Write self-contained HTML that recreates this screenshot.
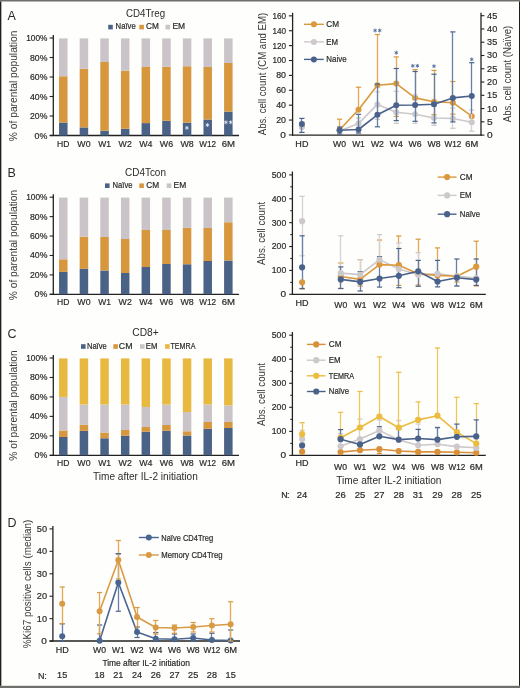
<!DOCTYPE html>
<html><head><meta charset="utf-8"><style>
html,body{margin:0;padding:0;background:#fefefc;}
svg{display:block;will-change:transform;}
text{font-family:"Liberation Sans", sans-serif;}
</style></head><body>
<svg width="520" height="688" viewBox="0 0 520 688">
<rect width="520" height="688" fill="#fefefc"/>
<text x="7.6" y="19.5" font-size="12.5" fill="#2b2b2b">A</text>
<text x="125.97" y="16.8" font-size="10.5" textLength="39.27" lengthAdjust="spacingAndGlyphs" fill="#2b2b2b">CD4Treg</text>
<rect x="108.2" y="24.8" width="4.6" height="4.6" fill="#4b6287"/>
<text x="115.62" y="29.4" font-size="8.3" textLength="20.16" lengthAdjust="spacingAndGlyphs" fill="#2b2b2b" stroke="#2b2b2b" stroke-width="0.2">Naïve</text>
<rect x="139.3" y="24.8" width="4.6" height="4.6" fill="#d6973f"/>
<text x="145.92" y="29.4" font-size="8.3" textLength="12.86" lengthAdjust="spacingAndGlyphs" fill="#2b2b2b" stroke="#2b2b2b" stroke-width="0.2">CM</text>
<rect x="165.5" y="24.8" width="4.6" height="4.6" fill="#cac4c8"/>
<text x="172.42" y="29.4" font-size="8.3" textLength="12.66" lengthAdjust="spacingAndGlyphs" fill="#2b2b2b" stroke="#2b2b2b" stroke-width="0.2">EM</text>
<text x="17.3" y="85.9" font-size="10.8" text-anchor="middle" textLength="110.5" lengthAdjust="spacingAndGlyphs" transform="rotate(-90 17.3 85.9)" fill="#3a3a3a">% of parental population</text>
<line x1="53.3" y1="35" x2="53.3" y2="136" stroke="#222" stroke-width="1.3"/>
<line x1="49.7" y1="135.5" x2="239" y2="135.5" stroke="#222" stroke-width="1.3"/>
<line x1="49.7" y1="38" x2="53.3" y2="38" stroke="#222" stroke-width="1.1"/>
<text x="26.2" y="41" font-size="8.5" textLength="21.19" lengthAdjust="spacingAndGlyphs" fill="#2b2b2b" stroke="#2b2b2b" stroke-width="0.2">100%</text>
<line x1="49.7" y1="57.5" x2="53.3" y2="57.5" stroke="#222" stroke-width="1.1"/>
<text x="30" y="60.5" font-size="8.5" textLength="17.39" lengthAdjust="spacingAndGlyphs" fill="#2b2b2b" stroke="#2b2b2b" stroke-width="0.2">80%</text>
<line x1="49.7" y1="77" x2="53.3" y2="77" stroke="#222" stroke-width="1.1"/>
<text x="30" y="80" font-size="8.5" textLength="17.39" lengthAdjust="spacingAndGlyphs" fill="#2b2b2b" stroke="#2b2b2b" stroke-width="0.2">60%</text>
<line x1="49.7" y1="96.5" x2="53.3" y2="96.5" stroke="#222" stroke-width="1.1"/>
<text x="30" y="99.5" font-size="8.5" textLength="17.39" lengthAdjust="spacingAndGlyphs" fill="#2b2b2b" stroke="#2b2b2b" stroke-width="0.2">40%</text>
<line x1="49.7" y1="116" x2="53.3" y2="116" stroke="#222" stroke-width="1.1"/>
<text x="30" y="119" font-size="8.5" textLength="17.39" lengthAdjust="spacingAndGlyphs" fill="#2b2b2b" stroke="#2b2b2b" stroke-width="0.2">20%</text>
<line x1="49.7" y1="135.5" x2="53.3" y2="135.5" stroke="#222" stroke-width="1.1"/>
<text x="34.6" y="138.5" font-size="8.5" textLength="12.79" lengthAdjust="spacingAndGlyphs" fill="#2b2b2b" stroke="#2b2b2b" stroke-width="0.2">0%</text>
<rect x="59.05" y="122.5" width="8.5" height="13" fill="#4b6287"/>
<rect x="59.05" y="76.25" width="8.5" height="46.25" fill="#d6973f"/>
<rect x="59.05" y="38.4" width="8.5" height="37.85" fill="#cac4c8"/>
<rect x="79.68" y="127.4" width="8.5" height="8.1" fill="#4b6287"/>
<rect x="79.68" y="68.75" width="8.5" height="58.65" fill="#d6973f"/>
<rect x="79.68" y="38.4" width="8.5" height="30.35" fill="#cac4c8"/>
<rect x="100.31" y="130.7" width="8.5" height="4.8" fill="#4b6287"/>
<rect x="100.31" y="62" width="8.5" height="68.7" fill="#d6973f"/>
<rect x="100.31" y="38.4" width="8.5" height="23.6" fill="#cac4c8"/>
<rect x="120.94" y="128.7" width="8.5" height="6.8" fill="#4b6287"/>
<rect x="120.94" y="70.75" width="8.5" height="57.95" fill="#d6973f"/>
<rect x="120.94" y="38.4" width="8.5" height="32.35" fill="#cac4c8"/>
<rect x="141.57" y="123.1" width="8.5" height="12.4" fill="#4b6287"/>
<rect x="141.57" y="67" width="8.5" height="56.1" fill="#d6973f"/>
<rect x="141.57" y="38.4" width="8.5" height="28.6" fill="#cac4c8"/>
<rect x="162.2" y="120.75" width="8.5" height="14.75" fill="#4b6287"/>
<rect x="162.2" y="66.75" width="8.5" height="54" fill="#d6973f"/>
<rect x="162.2" y="38.4" width="8.5" height="28.35" fill="#cac4c8"/>
<rect x="182.83" y="122.7" width="8.5" height="12.8" fill="#4b6287"/>
<rect x="182.83" y="66.25" width="8.5" height="56.45" fill="#d6973f"/>
<rect x="182.83" y="38.4" width="8.5" height="27.85" fill="#cac4c8"/>
<rect x="203.46" y="119.5" width="8.5" height="16" fill="#4b6287"/>
<rect x="203.46" y="67" width="8.5" height="52.5" fill="#d6973f"/>
<rect x="203.46" y="38.4" width="8.5" height="28.6" fill="#cac4c8"/>
<rect x="224.09" y="111.6" width="8.5" height="23.9" fill="#4b6287"/>
<rect x="224.09" y="63" width="8.5" height="48.6" fill="#d6973f"/>
<rect x="224.09" y="38.4" width="8.5" height="24.6" fill="#cac4c8"/>
<text x="63.3" y="146.6" font-size="9.2" text-anchor="middle" textLength="12.39" lengthAdjust="spacingAndGlyphs" fill="#2b2b2b" stroke="#2b2b2b" stroke-width="0.2">HD</text>
<text x="83.93" y="146.6" font-size="9.2" text-anchor="middle" textLength="13.19" lengthAdjust="spacingAndGlyphs" fill="#2b2b2b" stroke="#2b2b2b" stroke-width="0.2">W0</text>
<text x="104.56" y="146.6" font-size="9.2" text-anchor="middle" textLength="12.79" lengthAdjust="spacingAndGlyphs" fill="#2b2b2b" stroke="#2b2b2b" stroke-width="0.2">W1</text>
<text x="125.19" y="146.6" font-size="9.2" text-anchor="middle" textLength="13.19" lengthAdjust="spacingAndGlyphs" fill="#2b2b2b" stroke="#2b2b2b" stroke-width="0.2">W2</text>
<text x="145.82" y="146.6" font-size="9.2" text-anchor="middle" textLength="13.29" lengthAdjust="spacingAndGlyphs" fill="#2b2b2b" stroke="#2b2b2b" stroke-width="0.2">W4</text>
<text x="166.45" y="146.6" font-size="9.2" text-anchor="middle" textLength="13.29" lengthAdjust="spacingAndGlyphs" fill="#2b2b2b" stroke="#2b2b2b" stroke-width="0.2">W6</text>
<text x="187.08" y="146.6" font-size="9.2" text-anchor="middle" textLength="13.29" lengthAdjust="spacingAndGlyphs" fill="#2b2b2b" stroke="#2b2b2b" stroke-width="0.2">W8</text>
<text x="207.71" y="146.6" font-size="9.2" text-anchor="middle" textLength="16.79" lengthAdjust="spacingAndGlyphs" fill="#2b2b2b" stroke="#2b2b2b" stroke-width="0.2">W12</text>
<text x="228.34" y="146.6" font-size="9.2" text-anchor="middle" textLength="13.29" lengthAdjust="spacingAndGlyphs" fill="#2b2b2b" stroke="#2b2b2b" stroke-width="0.2">6M</text>
<line x1="186.9" y1="125.9" x2="186.9" y2="129.9" stroke="#f4f4f8" stroke-width="0.75"/>
<line x1="188.63" y1="126.9" x2="185.17" y2="128.9" stroke="#f4f4f8" stroke-width="0.75"/>
<line x1="188.63" y1="128.9" x2="185.17" y2="126.9" stroke="#f4f4f8" stroke-width="0.75"/>
<line x1="207.4" y1="123" x2="207.4" y2="127" stroke="#f4f4f8" stroke-width="0.75"/>
<line x1="209.13" y1="124" x2="205.67" y2="126" stroke="#f4f4f8" stroke-width="0.75"/>
<line x1="209.13" y1="126" x2="205.67" y2="124" stroke="#f4f4f8" stroke-width="0.75"/>
<line x1="225.9" y1="120.3" x2="225.9" y2="124.3" stroke="#f4f4f8" stroke-width="0.75"/>
<line x1="227.63" y1="121.3" x2="224.17" y2="123.3" stroke="#f4f4f8" stroke-width="0.75"/>
<line x1="227.63" y1="123.3" x2="224.17" y2="121.3" stroke="#f4f4f8" stroke-width="0.75"/>
<line x1="230.7" y1="120.3" x2="230.7" y2="124.3" stroke="#f4f4f8" stroke-width="0.75"/>
<line x1="232.43" y1="121.3" x2="228.97" y2="123.3" stroke="#f4f4f8" stroke-width="0.75"/>
<line x1="232.43" y1="123.3" x2="228.97" y2="121.3" stroke="#f4f4f8" stroke-width="0.75"/>
<text x="7.6" y="177.4" font-size="12.5" fill="#2b2b2b">B</text>
<text x="125.06" y="175.8" font-size="10.5" textLength="40.87" lengthAdjust="spacingAndGlyphs" fill="#2b2b2b">CD4Tcon</text>
<rect x="105" y="183.4" width="4.6" height="4.6" fill="#4b6287"/>
<text x="112.62" y="188.3" font-size="8.3" textLength="19.96" lengthAdjust="spacingAndGlyphs" fill="#2b2b2b" stroke="#2b2b2b" stroke-width="0.2">Naïve</text>
<rect x="139.3" y="183.4" width="4.6" height="4.6" fill="#d6973f"/>
<text x="146.22" y="188.3" font-size="8.3" textLength="12.86" lengthAdjust="spacingAndGlyphs" fill="#2b2b2b" stroke="#2b2b2b" stroke-width="0.2">CM</text>
<rect x="166.7" y="183.4" width="4.6" height="4.6" fill="#cac4c8"/>
<text x="173.62" y="188.3" font-size="8.3" textLength="12.66" lengthAdjust="spacingAndGlyphs" fill="#2b2b2b" stroke="#2b2b2b" stroke-width="0.2">EM</text>
<text x="17.3" y="245" font-size="10.8" text-anchor="middle" textLength="110.5" lengthAdjust="spacingAndGlyphs" transform="rotate(-90 17.3 245)" fill="#3a3a3a">% of parental population</text>
<line x1="53.3" y1="194.2" x2="53.3" y2="294.8" stroke="#222" stroke-width="1.3"/>
<line x1="49.7" y1="294.3" x2="239" y2="294.3" stroke="#222" stroke-width="1.3"/>
<line x1="49.7" y1="197.2" x2="53.3" y2="197.2" stroke="#222" stroke-width="1.1"/>
<text x="26.2" y="200.2" font-size="8.5" textLength="21.19" lengthAdjust="spacingAndGlyphs" fill="#2b2b2b" stroke="#2b2b2b" stroke-width="0.2">100%</text>
<line x1="49.7" y1="216.62" x2="53.3" y2="216.62" stroke="#222" stroke-width="1.1"/>
<text x="30" y="219.62" font-size="8.5" textLength="17.39" lengthAdjust="spacingAndGlyphs" fill="#2b2b2b" stroke="#2b2b2b" stroke-width="0.2">80%</text>
<line x1="49.7" y1="236.04" x2="53.3" y2="236.04" stroke="#222" stroke-width="1.1"/>
<text x="30" y="239.04" font-size="8.5" textLength="17.39" lengthAdjust="spacingAndGlyphs" fill="#2b2b2b" stroke="#2b2b2b" stroke-width="0.2">60%</text>
<line x1="49.7" y1="255.46" x2="53.3" y2="255.46" stroke="#222" stroke-width="1.1"/>
<text x="30" y="258.46" font-size="8.5" textLength="17.39" lengthAdjust="spacingAndGlyphs" fill="#2b2b2b" stroke="#2b2b2b" stroke-width="0.2">40%</text>
<line x1="49.7" y1="274.88" x2="53.3" y2="274.88" stroke="#222" stroke-width="1.1"/>
<text x="30" y="277.88" font-size="8.5" textLength="17.39" lengthAdjust="spacingAndGlyphs" fill="#2b2b2b" stroke="#2b2b2b" stroke-width="0.2">20%</text>
<line x1="49.7" y1="294.3" x2="53.3" y2="294.3" stroke="#222" stroke-width="1.1"/>
<text x="34.6" y="297.3" font-size="8.5" textLength="12.79" lengthAdjust="spacingAndGlyphs" fill="#2b2b2b" stroke="#2b2b2b" stroke-width="0.2">0%</text>
<rect x="59.05" y="271.9" width="8.5" height="22.4" fill="#4b6287"/>
<rect x="59.05" y="259.3" width="8.5" height="12.6" fill="#d6973f"/>
<rect x="59.05" y="197.6" width="8.5" height="61.7" fill="#cac4c8"/>
<rect x="79.68" y="268.9" width="8.5" height="25.4" fill="#4b6287"/>
<rect x="79.68" y="236.7" width="8.5" height="32.2" fill="#d6973f"/>
<rect x="79.68" y="197.6" width="8.5" height="39.1" fill="#cac4c8"/>
<rect x="100.31" y="270.5" width="8.5" height="23.8" fill="#4b6287"/>
<rect x="100.31" y="237" width="8.5" height="33.5" fill="#d6973f"/>
<rect x="100.31" y="197.6" width="8.5" height="39.4" fill="#cac4c8"/>
<rect x="120.94" y="273" width="8.5" height="21.3" fill="#4b6287"/>
<rect x="120.94" y="239" width="8.5" height="34" fill="#d6973f"/>
<rect x="120.94" y="197.6" width="8.5" height="41.4" fill="#cac4c8"/>
<rect x="141.57" y="267" width="8.5" height="27.3" fill="#4b6287"/>
<rect x="141.57" y="230" width="8.5" height="37" fill="#d6973f"/>
<rect x="141.57" y="197.6" width="8.5" height="32.4" fill="#cac4c8"/>
<rect x="162.2" y="264" width="8.5" height="30.3" fill="#4b6287"/>
<rect x="162.2" y="230" width="8.5" height="34" fill="#d6973f"/>
<rect x="162.2" y="197.6" width="8.5" height="32.4" fill="#cac4c8"/>
<rect x="182.83" y="264.25" width="8.5" height="30.05" fill="#4b6287"/>
<rect x="182.83" y="227.75" width="8.5" height="36.5" fill="#d6973f"/>
<rect x="182.83" y="197.6" width="8.5" height="30.15" fill="#cac4c8"/>
<rect x="203.46" y="261" width="8.5" height="33.3" fill="#4b6287"/>
<rect x="203.46" y="228" width="8.5" height="33" fill="#d6973f"/>
<rect x="203.46" y="197.6" width="8.5" height="30.4" fill="#cac4c8"/>
<rect x="224.09" y="260.5" width="8.5" height="33.8" fill="#4b6287"/>
<rect x="224.09" y="222.25" width="8.5" height="38.25" fill="#d6973f"/>
<rect x="224.09" y="197.6" width="8.5" height="24.65" fill="#cac4c8"/>
<text x="63.3" y="305.4" font-size="9.2" text-anchor="middle" textLength="12.39" lengthAdjust="spacingAndGlyphs" fill="#2b2b2b" stroke="#2b2b2b" stroke-width="0.2">HD</text>
<text x="83.93" y="305.4" font-size="9.2" text-anchor="middle" textLength="13.19" lengthAdjust="spacingAndGlyphs" fill="#2b2b2b" stroke="#2b2b2b" stroke-width="0.2">W0</text>
<text x="104.56" y="305.4" font-size="9.2" text-anchor="middle" textLength="12.79" lengthAdjust="spacingAndGlyphs" fill="#2b2b2b" stroke="#2b2b2b" stroke-width="0.2">W1</text>
<text x="125.19" y="305.4" font-size="9.2" text-anchor="middle" textLength="13.19" lengthAdjust="spacingAndGlyphs" fill="#2b2b2b" stroke="#2b2b2b" stroke-width="0.2">W2</text>
<text x="145.82" y="305.4" font-size="9.2" text-anchor="middle" textLength="13.29" lengthAdjust="spacingAndGlyphs" fill="#2b2b2b" stroke="#2b2b2b" stroke-width="0.2">W4</text>
<text x="166.45" y="305.4" font-size="9.2" text-anchor="middle" textLength="13.29" lengthAdjust="spacingAndGlyphs" fill="#2b2b2b" stroke="#2b2b2b" stroke-width="0.2">W6</text>
<text x="187.08" y="305.4" font-size="9.2" text-anchor="middle" textLength="13.29" lengthAdjust="spacingAndGlyphs" fill="#2b2b2b" stroke="#2b2b2b" stroke-width="0.2">W8</text>
<text x="207.71" y="305.4" font-size="9.2" text-anchor="middle" textLength="16.79" lengthAdjust="spacingAndGlyphs" fill="#2b2b2b" stroke="#2b2b2b" stroke-width="0.2">W12</text>
<text x="228.34" y="305.4" font-size="9.2" text-anchor="middle" textLength="13.29" lengthAdjust="spacingAndGlyphs" fill="#2b2b2b" stroke="#2b2b2b" stroke-width="0.2">6M</text>
<text x="7.6" y="338.4" font-size="12.5" fill="#2b2b2b">C</text>
<text x="132.26" y="336.1" font-size="10.5" textLength="26.47" lengthAdjust="spacingAndGlyphs" fill="#2b2b2b">CD8+</text>
<rect x="81" y="344.2" width="4.6" height="4.6" fill="#4b6287"/>
<text x="86.92" y="349.2" font-size="8.3" textLength="19.86" lengthAdjust="spacingAndGlyphs" fill="#2b2b2b" stroke="#2b2b2b" stroke-width="0.2">Naïve</text>
<rect x="113.3" y="344.2" width="4.6" height="4.6" fill="#d6973f"/>
<text x="118.82" y="349.2" font-size="8.3" textLength="13.66" lengthAdjust="spacingAndGlyphs" fill="#2b2b2b" stroke="#2b2b2b" stroke-width="0.2">CM</text>
<rect x="140" y="344.2" width="4.6" height="4.6" fill="#cac4c8"/>
<text x="145.82" y="349.2" font-size="8.3" textLength="11.66" lengthAdjust="spacingAndGlyphs" fill="#2b2b2b" stroke="#2b2b2b" stroke-width="0.2">EM</text>
<rect x="165.1" y="344.2" width="4.6" height="4.6" fill="#e8b940"/>
<text x="170.42" y="349.2" font-size="8.3" textLength="25.06" lengthAdjust="spacingAndGlyphs" fill="#2b2b2b" stroke="#2b2b2b" stroke-width="0.2">TEMRA</text>
<text x="17.3" y="405.5" font-size="10.8" text-anchor="middle" textLength="110.5" lengthAdjust="spacingAndGlyphs" transform="rotate(-90 17.3 405.5)" fill="#3a3a3a">% of parental population</text>
<line x1="53.3" y1="355" x2="53.3" y2="455.8" stroke="#222" stroke-width="1.3"/>
<line x1="49.7" y1="455.3" x2="239" y2="455.3" stroke="#222" stroke-width="1.3"/>
<line x1="49.7" y1="358" x2="53.3" y2="358" stroke="#222" stroke-width="1.1"/>
<text x="26.2" y="361" font-size="8.5" textLength="21.19" lengthAdjust="spacingAndGlyphs" fill="#2b2b2b" stroke="#2b2b2b" stroke-width="0.2">100%</text>
<line x1="49.7" y1="377.46" x2="53.3" y2="377.46" stroke="#222" stroke-width="1.1"/>
<text x="30" y="380.46" font-size="8.5" textLength="17.39" lengthAdjust="spacingAndGlyphs" fill="#2b2b2b" stroke="#2b2b2b" stroke-width="0.2">80%</text>
<line x1="49.7" y1="396.92" x2="53.3" y2="396.92" stroke="#222" stroke-width="1.1"/>
<text x="30" y="399.92" font-size="8.5" textLength="17.39" lengthAdjust="spacingAndGlyphs" fill="#2b2b2b" stroke="#2b2b2b" stroke-width="0.2">60%</text>
<line x1="49.7" y1="416.38" x2="53.3" y2="416.38" stroke="#222" stroke-width="1.1"/>
<text x="30" y="419.38" font-size="8.5" textLength="17.39" lengthAdjust="spacingAndGlyphs" fill="#2b2b2b" stroke="#2b2b2b" stroke-width="0.2">40%</text>
<line x1="49.7" y1="435.84" x2="53.3" y2="435.84" stroke="#222" stroke-width="1.1"/>
<text x="30" y="438.84" font-size="8.5" textLength="17.39" lengthAdjust="spacingAndGlyphs" fill="#2b2b2b" stroke="#2b2b2b" stroke-width="0.2">20%</text>
<line x1="49.7" y1="455.3" x2="53.3" y2="455.3" stroke="#222" stroke-width="1.1"/>
<text x="34.6" y="458.3" font-size="8.5" textLength="12.79" lengthAdjust="spacingAndGlyphs" fill="#2b2b2b" stroke="#2b2b2b" stroke-width="0.2">0%</text>
<rect x="59.05" y="437" width="8.5" height="18.3" fill="#4b6287"/>
<rect x="59.05" y="430.5" width="8.5" height="6.5" fill="#d6973f"/>
<rect x="59.05" y="396.9" width="8.5" height="33.6" fill="#cac4c8"/>
<rect x="59.05" y="358.4" width="8.5" height="38.5" fill="#e8b940"/>
<rect x="79.68" y="430.9" width="8.5" height="24.4" fill="#4b6287"/>
<rect x="79.68" y="424.8" width="8.5" height="6.1" fill="#d6973f"/>
<rect x="79.68" y="404.5" width="8.5" height="20.3" fill="#cac4c8"/>
<rect x="79.68" y="358.4" width="8.5" height="46.1" fill="#e8b940"/>
<rect x="100.31" y="438.25" width="8.5" height="17.05" fill="#4b6287"/>
<rect x="100.31" y="432.5" width="8.5" height="5.75" fill="#d6973f"/>
<rect x="100.31" y="404.5" width="8.5" height="28" fill="#cac4c8"/>
<rect x="100.31" y="358.4" width="8.5" height="46.1" fill="#e8b940"/>
<rect x="120.94" y="435.75" width="8.5" height="19.55" fill="#4b6287"/>
<rect x="120.94" y="430" width="8.5" height="5.75" fill="#d6973f"/>
<rect x="120.94" y="404.5" width="8.5" height="25.5" fill="#cac4c8"/>
<rect x="120.94" y="358.4" width="8.5" height="46.1" fill="#e8b940"/>
<rect x="141.57" y="431.75" width="8.5" height="23.55" fill="#4b6287"/>
<rect x="141.57" y="427" width="8.5" height="4.75" fill="#d6973f"/>
<rect x="141.57" y="407" width="8.5" height="20" fill="#cac4c8"/>
<rect x="141.57" y="358.4" width="8.5" height="48.6" fill="#e8b940"/>
<rect x="162.2" y="430.75" width="8.5" height="24.55" fill="#4b6287"/>
<rect x="162.2" y="425" width="8.5" height="5.75" fill="#d6973f"/>
<rect x="162.2" y="404.5" width="8.5" height="20.5" fill="#cac4c8"/>
<rect x="162.2" y="358.4" width="8.5" height="46.1" fill="#e8b940"/>
<rect x="182.83" y="435.5" width="8.5" height="19.8" fill="#4b6287"/>
<rect x="182.83" y="431.25" width="8.5" height="4.25" fill="#d6973f"/>
<rect x="182.83" y="412" width="8.5" height="19.25" fill="#cac4c8"/>
<rect x="182.83" y="358.4" width="8.5" height="53.6" fill="#e8b940"/>
<rect x="203.46" y="428.75" width="8.5" height="26.55" fill="#4b6287"/>
<rect x="203.46" y="422" width="8.5" height="6.75" fill="#d6973f"/>
<rect x="203.46" y="404.5" width="8.5" height="17.5" fill="#cac4c8"/>
<rect x="203.46" y="358.4" width="8.5" height="46.1" fill="#e8b940"/>
<rect x="224.09" y="428" width="8.5" height="27.3" fill="#4b6287"/>
<rect x="224.09" y="422" width="8.5" height="6" fill="#d6973f"/>
<rect x="224.09" y="405.5" width="8.5" height="16.5" fill="#cac4c8"/>
<rect x="224.09" y="358.4" width="8.5" height="47.1" fill="#e8b940"/>
<text x="63.3" y="466.4" font-size="9.2" text-anchor="middle" textLength="12.39" lengthAdjust="spacingAndGlyphs" fill="#2b2b2b" stroke="#2b2b2b" stroke-width="0.2">HD</text>
<text x="83.93" y="466.4" font-size="9.2" text-anchor="middle" textLength="13.19" lengthAdjust="spacingAndGlyphs" fill="#2b2b2b" stroke="#2b2b2b" stroke-width="0.2">W0</text>
<text x="104.56" y="466.4" font-size="9.2" text-anchor="middle" textLength="12.79" lengthAdjust="spacingAndGlyphs" fill="#2b2b2b" stroke="#2b2b2b" stroke-width="0.2">W1</text>
<text x="125.19" y="466.4" font-size="9.2" text-anchor="middle" textLength="13.19" lengthAdjust="spacingAndGlyphs" fill="#2b2b2b" stroke="#2b2b2b" stroke-width="0.2">W2</text>
<text x="145.82" y="466.4" font-size="9.2" text-anchor="middle" textLength="13.29" lengthAdjust="spacingAndGlyphs" fill="#2b2b2b" stroke="#2b2b2b" stroke-width="0.2">W4</text>
<text x="166.45" y="466.4" font-size="9.2" text-anchor="middle" textLength="13.29" lengthAdjust="spacingAndGlyphs" fill="#2b2b2b" stroke="#2b2b2b" stroke-width="0.2">W6</text>
<text x="187.08" y="466.4" font-size="9.2" text-anchor="middle" textLength="13.29" lengthAdjust="spacingAndGlyphs" fill="#2b2b2b" stroke="#2b2b2b" stroke-width="0.2">W8</text>
<text x="207.71" y="466.4" font-size="9.2" text-anchor="middle" textLength="16.79" lengthAdjust="spacingAndGlyphs" fill="#2b2b2b" stroke="#2b2b2b" stroke-width="0.2">W12</text>
<text x="228.34" y="466.4" font-size="9.2" text-anchor="middle" textLength="13.29" lengthAdjust="spacingAndGlyphs" fill="#2b2b2b" stroke="#2b2b2b" stroke-width="0.2">6M</text>
<text x="92.99" y="479.8" font-size="10.2" textLength="104.83" lengthAdjust="spacingAndGlyphs" fill="#2b2b2b">Time after IL-2 initiation</text>
<line x1="292.6" y1="12.8" x2="292.6" y2="135.8" stroke="#222" stroke-width="1.3"/>
<line x1="481" y1="12.8" x2="481" y2="135.8" stroke="#222" stroke-width="1.3"/>
<line x1="292" y1="135.2" x2="481.6" y2="135.2" stroke="#222" stroke-width="1.3"/>
<line x1="288.9" y1="134.95" x2="292.6" y2="134.95" stroke="#222" stroke-width="1.1"/>
<text x="280.39" y="137.9" font-size="8.7" textLength="5.62" lengthAdjust="spacingAndGlyphs" fill="#2b2b2b" stroke="#2b2b2b" stroke-width="0.2">0</text>
<line x1="288.9" y1="120.06" x2="292.6" y2="120.06" stroke="#222" stroke-width="1.1"/>
<text x="276.19" y="123.01" font-size="8.7" textLength="9.82" lengthAdjust="spacingAndGlyphs" fill="#2b2b2b" stroke="#2b2b2b" stroke-width="0.2">20</text>
<line x1="288.9" y1="105.17" x2="292.6" y2="105.17" stroke="#222" stroke-width="1.1"/>
<text x="276.19" y="108.12" font-size="8.7" textLength="9.82" lengthAdjust="spacingAndGlyphs" fill="#2b2b2b" stroke="#2b2b2b" stroke-width="0.2">40</text>
<line x1="288.9" y1="90.29" x2="292.6" y2="90.29" stroke="#222" stroke-width="1.1"/>
<text x="276.19" y="93.24" font-size="8.7" textLength="9.82" lengthAdjust="spacingAndGlyphs" fill="#2b2b2b" stroke="#2b2b2b" stroke-width="0.2">60</text>
<line x1="288.9" y1="75.4" x2="292.6" y2="75.4" stroke="#222" stroke-width="1.1"/>
<text x="276.19" y="78.35" font-size="8.7" textLength="9.82" lengthAdjust="spacingAndGlyphs" fill="#2b2b2b" stroke="#2b2b2b" stroke-width="0.2">80</text>
<line x1="288.9" y1="60.51" x2="292.6" y2="60.51" stroke="#222" stroke-width="1.1"/>
<text x="272.39" y="63.46" font-size="8.7" textLength="13.62" lengthAdjust="spacingAndGlyphs" fill="#2b2b2b" stroke="#2b2b2b" stroke-width="0.2">100</text>
<line x1="288.9" y1="45.62" x2="292.6" y2="45.62" stroke="#222" stroke-width="1.1"/>
<text x="272.39" y="48.57" font-size="8.7" textLength="13.62" lengthAdjust="spacingAndGlyphs" fill="#2b2b2b" stroke="#2b2b2b" stroke-width="0.2">120</text>
<line x1="288.9" y1="30.73" x2="292.6" y2="30.73" stroke="#222" stroke-width="1.1"/>
<text x="272.39" y="33.68" font-size="8.7" textLength="13.62" lengthAdjust="spacingAndGlyphs" fill="#2b2b2b" stroke="#2b2b2b" stroke-width="0.2">140</text>
<line x1="288.9" y1="15.85" x2="292.6" y2="15.85" stroke="#222" stroke-width="1.1"/>
<text x="272.39" y="18.8" font-size="8.7" textLength="13.62" lengthAdjust="spacingAndGlyphs" fill="#2b2b2b" stroke="#2b2b2b" stroke-width="0.2">160</text>
<line x1="481" y1="135.1" x2="484.4" y2="135.1" stroke="#222" stroke-width="1.1"/>
<text x="487.09" y="138.05" font-size="8.7" textLength="5.62" lengthAdjust="spacingAndGlyphs" fill="#2b2b2b" stroke="#2b2b2b" stroke-width="0.2">0</text>
<line x1="481" y1="121.83" x2="484.4" y2="121.83" stroke="#222" stroke-width="1.1"/>
<text x="487.09" y="124.78" font-size="8.7" textLength="5.62" lengthAdjust="spacingAndGlyphs" fill="#2b2b2b" stroke="#2b2b2b" stroke-width="0.2">5</text>
<line x1="481" y1="108.57" x2="484.4" y2="108.57" stroke="#222" stroke-width="1.1"/>
<text x="487.09" y="111.52" font-size="8.7" textLength="10.12" lengthAdjust="spacingAndGlyphs" fill="#2b2b2b" stroke="#2b2b2b" stroke-width="0.2">10</text>
<line x1="481" y1="95.3" x2="484.4" y2="95.3" stroke="#222" stroke-width="1.1"/>
<text x="487.09" y="98.25" font-size="8.7" textLength="10.12" lengthAdjust="spacingAndGlyphs" fill="#2b2b2b" stroke="#2b2b2b" stroke-width="0.2">15</text>
<line x1="481" y1="82.03" x2="484.4" y2="82.03" stroke="#222" stroke-width="1.1"/>
<text x="487.09" y="84.98" font-size="8.7" textLength="10.12" lengthAdjust="spacingAndGlyphs" fill="#2b2b2b" stroke="#2b2b2b" stroke-width="0.2">20</text>
<line x1="481" y1="68.77" x2="484.4" y2="68.77" stroke="#222" stroke-width="1.1"/>
<text x="487.09" y="71.72" font-size="8.7" textLength="10.12" lengthAdjust="spacingAndGlyphs" fill="#2b2b2b" stroke="#2b2b2b" stroke-width="0.2">25</text>
<line x1="481" y1="55.5" x2="484.4" y2="55.5" stroke="#222" stroke-width="1.1"/>
<text x="487.09" y="58.45" font-size="8.7" textLength="10.12" lengthAdjust="spacingAndGlyphs" fill="#2b2b2b" stroke="#2b2b2b" stroke-width="0.2">30</text>
<line x1="481" y1="42.23" x2="484.4" y2="42.23" stroke="#222" stroke-width="1.1"/>
<text x="487.09" y="45.18" font-size="8.7" textLength="10.12" lengthAdjust="spacingAndGlyphs" fill="#2b2b2b" stroke="#2b2b2b" stroke-width="0.2">35</text>
<line x1="481" y1="28.97" x2="484.4" y2="28.97" stroke="#222" stroke-width="1.1"/>
<text x="487.09" y="31.92" font-size="8.7" textLength="10.12" lengthAdjust="spacingAndGlyphs" fill="#2b2b2b" stroke="#2b2b2b" stroke-width="0.2">40</text>
<line x1="481" y1="15.7" x2="484.4" y2="15.7" stroke="#222" stroke-width="1.1"/>
<text x="487.09" y="18.65" font-size="8.7" textLength="10.12" lengthAdjust="spacingAndGlyphs" fill="#2b2b2b" stroke="#2b2b2b" stroke-width="0.2">45</text>
<text x="265.6" y="74" font-size="10.8" text-anchor="middle" textLength="122.5" lengthAdjust="spacingAndGlyphs" transform="rotate(-90 265.6 74)" fill="#3a3a3a">Abs. cell count (CM and EM)</text>
<text x="511.4" y="74" font-size="10.8" text-anchor="middle" textLength="96.5" lengthAdjust="spacingAndGlyphs" transform="rotate(-90 511.4 74)" fill="#3a3a3a">Abs. cell count (Naïve)</text>
<text x="301.9" y="146.9" font-size="8.4" text-anchor="middle" textLength="13.08" lengthAdjust="spacingAndGlyphs" fill="#2b2b2b" stroke="#2b2b2b" stroke-width="0.2">HD</text>
<text x="339.6" y="146.9" font-size="8.4" text-anchor="middle" textLength="12.98" lengthAdjust="spacingAndGlyphs" fill="#2b2b2b" stroke="#2b2b2b" stroke-width="0.2">W0</text>
<text x="358.5" y="146.9" font-size="8.4" text-anchor="middle" textLength="12.58" lengthAdjust="spacingAndGlyphs" fill="#2b2b2b" stroke="#2b2b2b" stroke-width="0.2">W1</text>
<text x="377.4" y="146.9" font-size="8.4" text-anchor="middle" textLength="12.98" lengthAdjust="spacingAndGlyphs" fill="#2b2b2b" stroke="#2b2b2b" stroke-width="0.2">W2</text>
<text x="396.25" y="146.9" font-size="8.4" text-anchor="middle" textLength="12.98" lengthAdjust="spacingAndGlyphs" fill="#2b2b2b" stroke="#2b2b2b" stroke-width="0.2">W4</text>
<text x="415.1" y="146.9" font-size="8.4" text-anchor="middle" textLength="12.98" lengthAdjust="spacingAndGlyphs" fill="#2b2b2b" stroke="#2b2b2b" stroke-width="0.2">W6</text>
<text x="434" y="146.9" font-size="8.4" text-anchor="middle" textLength="12.98" lengthAdjust="spacingAndGlyphs" fill="#2b2b2b" stroke="#2b2b2b" stroke-width="0.2">W8</text>
<text x="452.85" y="146.9" font-size="8.4" text-anchor="middle" textLength="16.78" lengthAdjust="spacingAndGlyphs" fill="#2b2b2b" stroke="#2b2b2b" stroke-width="0.2">W12</text>
<text x="471.75" y="146.9" font-size="8.4" text-anchor="middle" textLength="12.98" lengthAdjust="spacingAndGlyphs" fill="#2b2b2b" stroke="#2b2b2b" stroke-width="0.2">6M</text>
<line x1="339.5" y1="119.2" x2="339.5" y2="129.8" stroke="#e2a954" stroke-width="1.3"/>
<line x1="337" y1="119.2" x2="342.2" y2="119.2" stroke="#da993d" stroke-width="1.2"/>
<line x1="358.5" y1="87.2" x2="358.5" y2="109.8" stroke="#e2a954" stroke-width="1.3"/>
<line x1="355.9" y1="87.2" x2="361.1" y2="87.2" stroke="#da993d" stroke-width="1.2"/>
<line x1="377.5" y1="34.5" x2="377.5" y2="85.2" stroke="#e2a954" stroke-width="1.3"/>
<line x1="374.8" y1="34.5" x2="380" y2="34.5" stroke="#da993d" stroke-width="1.2"/>
<line x1="396.5" y1="56.9" x2="396.5" y2="116.4" stroke="#e2a954" stroke-width="1.3"/>
<line x1="393.65" y1="56.9" x2="398.85" y2="56.9" stroke="#da993d" stroke-width="1.2"/>
<line x1="393.65" y1="116.4" x2="398.85" y2="116.4" stroke="#da993d" stroke-width="1.2"/>
<line x1="415.5" y1="69.6" x2="415.5" y2="97.9" stroke="#e2a954" stroke-width="1.3"/>
<line x1="412.5" y1="69.6" x2="417.7" y2="69.6" stroke="#da993d" stroke-width="1.2"/>
<line x1="434.5" y1="70.4" x2="434.5" y2="114.6" stroke="#e2a954" stroke-width="1.3"/>
<line x1="431.4" y1="70.4" x2="436.6" y2="70.4" stroke="#da993d" stroke-width="1.2"/>
<line x1="431.4" y1="114.6" x2="436.6" y2="114.6" stroke="#da993d" stroke-width="1.2"/>
<line x1="452.5" y1="81.5" x2="452.5" y2="114.2" stroke="#e2a954" stroke-width="1.3"/>
<line x1="450.25" y1="81.5" x2="455.45" y2="81.5" stroke="#da993d" stroke-width="1.2"/>
<line x1="450.25" y1="114.2" x2="455.45" y2="114.2" stroke="#da993d" stroke-width="1.2"/>
<polyline points="339.6,129.8 358.5,109.8 377.4,85.2 396.25,83.6 415.1,97.9 434,101.7 452.85,102.7 471.75,116.2" fill="none" stroke="#da993d" stroke-width="1.6" stroke-linejoin="round"/>
<circle cx="301.9" cy="126.5" r="3" fill="#da993d"/>
<circle cx="339.6" cy="129.8" r="3" fill="#da993d"/>
<circle cx="358.5" cy="109.8" r="3" fill="#da993d"/>
<circle cx="377.4" cy="85.2" r="3" fill="#da993d"/>
<circle cx="396.25" cy="83.6" r="3" fill="#da993d"/>
<circle cx="415.1" cy="97.9" r="3" fill="#da993d"/>
<circle cx="434" cy="101.7" r="3" fill="#da993d"/>
<circle cx="452.85" cy="102.7" r="3" fill="#da993d"/>
<circle cx="471.75" cy="116.2" r="3" fill="#da993d"/>
<line x1="301.5" y1="122.5" x2="301.5" y2="132.5" stroke="#d6d2d5" stroke-width="1.3"/>
<line x1="299.3" y1="122.5" x2="304.5" y2="122.5" stroke="#cdc8cb" stroke-width="1.2"/>
<line x1="299.3" y1="132.5" x2="304.5" y2="132.5" stroke="#cdc8cb" stroke-width="1.2"/>
<line x1="358.5" y1="118" x2="358.5" y2="128.5" stroke="#d6d2d5" stroke-width="1.3"/>
<line x1="355.9" y1="118" x2="361.1" y2="118" stroke="#cdc8cb" stroke-width="1.2"/>
<line x1="355.9" y1="128.5" x2="361.1" y2="128.5" stroke="#cdc8cb" stroke-width="1.2"/>
<line x1="377.5" y1="91.8" x2="377.5" y2="119.4" stroke="#d6d2d5" stroke-width="1.3"/>
<line x1="374.8" y1="91.8" x2="380" y2="91.8" stroke="#cdc8cb" stroke-width="1.2"/>
<line x1="374.8" y1="119.4" x2="380" y2="119.4" stroke="#cdc8cb" stroke-width="1.2"/>
<line x1="396.5" y1="91.4" x2="396.5" y2="123.4" stroke="#d6d2d5" stroke-width="1.3"/>
<line x1="393.65" y1="91.4" x2="398.85" y2="91.4" stroke="#cdc8cb" stroke-width="1.2"/>
<line x1="393.65" y1="123.4" x2="398.85" y2="123.4" stroke="#cdc8cb" stroke-width="1.2"/>
<line x1="415.5" y1="95" x2="415.5" y2="123.3" stroke="#d6d2d5" stroke-width="1.3"/>
<line x1="412.5" y1="95" x2="417.7" y2="95" stroke="#cdc8cb" stroke-width="1.2"/>
<line x1="412.5" y1="123.3" x2="417.7" y2="123.3" stroke="#cdc8cb" stroke-width="1.2"/>
<line x1="434.5" y1="106" x2="434.5" y2="125.4" stroke="#d6d2d5" stroke-width="1.3"/>
<line x1="431.4" y1="106" x2="436.6" y2="106" stroke="#cdc8cb" stroke-width="1.2"/>
<line x1="431.4" y1="125.4" x2="436.6" y2="125.4" stroke="#cdc8cb" stroke-width="1.2"/>
<line x1="452.5" y1="108" x2="452.5" y2="128.3" stroke="#d6d2d5" stroke-width="1.3"/>
<line x1="450.25" y1="108" x2="455.45" y2="108" stroke="#cdc8cb" stroke-width="1.2"/>
<line x1="450.25" y1="128.3" x2="455.45" y2="128.3" stroke="#cdc8cb" stroke-width="1.2"/>
<line x1="471.5" y1="110" x2="471.5" y2="131.2" stroke="#d6d2d5" stroke-width="1.3"/>
<line x1="469.15" y1="110" x2="474.35" y2="110" stroke="#cdc8cb" stroke-width="1.2"/>
<line x1="469.15" y1="131.2" x2="474.35" y2="131.2" stroke="#cdc8cb" stroke-width="1.2"/>
<polyline points="339.6,131 358.5,123.6 377.4,104.4 396.25,112.2 415.1,114.2 434,118 452.85,118.5 471.75,122.3" fill="none" stroke="#cdc8cb" stroke-width="1.6" stroke-linejoin="round"/>
<circle cx="301.9" cy="127" r="3" fill="#cdc8cb"/>
<circle cx="339.6" cy="131" r="3" fill="#cdc8cb"/>
<circle cx="358.5" cy="123.6" r="3" fill="#cdc8cb"/>
<circle cx="377.4" cy="104.4" r="3" fill="#cdc8cb"/>
<circle cx="396.25" cy="112.2" r="3" fill="#cdc8cb"/>
<circle cx="415.1" cy="114.2" r="3" fill="#cdc8cb"/>
<circle cx="434" cy="118" r="3" fill="#cdc8cb"/>
<circle cx="452.85" cy="118.5" r="3" fill="#cdc8cb"/>
<circle cx="471.75" cy="122.3" r="3" fill="#cdc8cb"/>
<line x1="301.5" y1="118.4" x2="301.5" y2="132.4" stroke="#6580aa" stroke-width="1.3"/>
<line x1="299.3" y1="118.4" x2="304.5" y2="118.4" stroke="#4a628b" stroke-width="1.2"/>
<line x1="299.3" y1="132.4" x2="304.5" y2="132.4" stroke="#4a628b" stroke-width="1.2"/>
<line x1="339.5" y1="127" x2="339.5" y2="134" stroke="#6580aa" stroke-width="1.3"/>
<line x1="337" y1="127" x2="342.2" y2="127" stroke="#4a628b" stroke-width="1.2"/>
<line x1="337" y1="134" x2="342.2" y2="134" stroke="#4a628b" stroke-width="1.2"/>
<line x1="358.5" y1="114.3" x2="358.5" y2="133.1" stroke="#6580aa" stroke-width="1.3"/>
<line x1="355.9" y1="114.3" x2="361.1" y2="114.3" stroke="#4a628b" stroke-width="1.2"/>
<line x1="355.9" y1="133.1" x2="361.1" y2="133.1" stroke="#4a628b" stroke-width="1.2"/>
<line x1="377.5" y1="84" x2="377.5" y2="126.8" stroke="#6580aa" stroke-width="1.3"/>
<line x1="374.8" y1="84" x2="380" y2="84" stroke="#4a628b" stroke-width="1.2"/>
<line x1="374.8" y1="126.8" x2="380" y2="126.8" stroke="#4a628b" stroke-width="1.2"/>
<line x1="396.5" y1="68.5" x2="396.5" y2="120.6" stroke="#6580aa" stroke-width="1.3"/>
<line x1="393.65" y1="68.5" x2="398.85" y2="68.5" stroke="#4a628b" stroke-width="1.2"/>
<line x1="393.65" y1="120.6" x2="398.85" y2="120.6" stroke="#4a628b" stroke-width="1.2"/>
<line x1="415.5" y1="71.5" x2="415.5" y2="121.3" stroke="#6580aa" stroke-width="1.3"/>
<line x1="412.5" y1="71.5" x2="417.7" y2="71.5" stroke="#4a628b" stroke-width="1.2"/>
<line x1="412.5" y1="121.3" x2="417.7" y2="121.3" stroke="#4a628b" stroke-width="1.2"/>
<line x1="434.5" y1="74.2" x2="434.5" y2="122.9" stroke="#6580aa" stroke-width="1.3"/>
<line x1="431.4" y1="74.2" x2="436.6" y2="74.2" stroke="#4a628b" stroke-width="1.2"/>
<line x1="431.4" y1="122.9" x2="436.6" y2="122.9" stroke="#4a628b" stroke-width="1.2"/>
<line x1="452.5" y1="31.9" x2="452.5" y2="121.9" stroke="#6580aa" stroke-width="1.3"/>
<line x1="450.25" y1="31.9" x2="455.45" y2="31.9" stroke="#4a628b" stroke-width="1.2"/>
<line x1="450.25" y1="121.9" x2="455.45" y2="121.9" stroke="#4a628b" stroke-width="1.2"/>
<line x1="471.5" y1="62.7" x2="471.5" y2="114" stroke="#6580aa" stroke-width="1.3"/>
<line x1="469.15" y1="62.7" x2="474.35" y2="62.7" stroke="#4a628b" stroke-width="1.2"/>
<polyline points="339.6,130.3 358.5,129.5 377.4,114.8 396.25,105.3 415.1,105 434,104.2 452.85,97.9 471.75,96" fill="none" stroke="#4a628b" stroke-width="1.6" stroke-linejoin="round"/>
<circle cx="301.9" cy="124" r="3" fill="#4a628b"/>
<circle cx="339.6" cy="130.3" r="3" fill="#4a628b"/>
<circle cx="358.5" cy="129.5" r="3" fill="#4a628b"/>
<circle cx="377.4" cy="114.8" r="3" fill="#4a628b"/>
<circle cx="396.25" cy="105.3" r="3" fill="#4a628b"/>
<circle cx="415.1" cy="105" r="3" fill="#4a628b"/>
<circle cx="434" cy="104.2" r="3" fill="#4a628b"/>
<circle cx="452.85" cy="97.9" r="3" fill="#4a628b"/>
<circle cx="471.75" cy="96" r="3" fill="#4a628b"/>
<line x1="304" y1="24.3" x2="323.8" y2="24.3" stroke="#da993d" stroke-width="1.4"/>
<circle cx="313.9" cy="24.3" r="3" fill="#da993d"/>
<text x="326.32" y="27" font-size="8.3" textLength="12.76" lengthAdjust="spacingAndGlyphs" fill="#2b2b2b" stroke="#2b2b2b" stroke-width="0.2">CM</text>
<line x1="304" y1="41.9" x2="323.8" y2="41.9" stroke="#cdc8cb" stroke-width="1.4"/>
<circle cx="313.9" cy="41.9" r="3" fill="#cdc8cb"/>
<text x="326.32" y="44.6" font-size="8.3" textLength="11.76" lengthAdjust="spacingAndGlyphs" fill="#2b2b2b" stroke="#2b2b2b" stroke-width="0.2">EM</text>
<line x1="304" y1="59.4" x2="323.8" y2="59.4" stroke="#4a628b" stroke-width="1.4"/>
<circle cx="313.9" cy="59.4" r="3" fill="#4a628b"/>
<text x="326.32" y="62.1" font-size="8.3" textLength="20.26" lengthAdjust="spacingAndGlyphs" fill="#2b2b2b" stroke="#2b2b2b" stroke-width="0.2">Naive</text>
<line x1="375.1" y1="28.6" x2="375.1" y2="32.4" stroke="#4f6c9e" stroke-width="0.95"/>
<line x1="376.75" y1="29.55" x2="373.45" y2="31.45" stroke="#4f6c9e" stroke-width="0.95"/>
<line x1="376.75" y1="31.45" x2="373.45" y2="29.55" stroke="#4f6c9e" stroke-width="0.95"/>
<line x1="379.7" y1="28.6" x2="379.7" y2="32.4" stroke="#4f6c9e" stroke-width="0.95"/>
<line x1="381.35" y1="29.55" x2="378.05" y2="31.45" stroke="#4f6c9e" stroke-width="0.95"/>
<line x1="381.35" y1="31.45" x2="378.05" y2="29.55" stroke="#4f6c9e" stroke-width="0.95"/>
<line x1="396.25" y1="50.8" x2="396.25" y2="54.6" stroke="#4f6c9e" stroke-width="0.95"/>
<line x1="397.9" y1="51.75" x2="394.6" y2="53.65" stroke="#4f6c9e" stroke-width="0.95"/>
<line x1="397.9" y1="53.65" x2="394.6" y2="51.75" stroke="#4f6c9e" stroke-width="0.95"/>
<line x1="412.8" y1="63.9" x2="412.8" y2="67.7" stroke="#4f6c9e" stroke-width="0.95"/>
<line x1="414.45" y1="64.85" x2="411.15" y2="66.75" stroke="#4f6c9e" stroke-width="0.95"/>
<line x1="414.45" y1="66.75" x2="411.15" y2="64.85" stroke="#4f6c9e" stroke-width="0.95"/>
<line x1="417.4" y1="63.9" x2="417.4" y2="67.7" stroke="#4f6c9e" stroke-width="0.95"/>
<line x1="419.05" y1="64.85" x2="415.75" y2="66.75" stroke="#4f6c9e" stroke-width="0.95"/>
<line x1="419.05" y1="66.75" x2="415.75" y2="64.85" stroke="#4f6c9e" stroke-width="0.95"/>
<line x1="434" y1="64.3" x2="434" y2="68.1" stroke="#4f6c9e" stroke-width="0.95"/>
<line x1="435.65" y1="65.25" x2="432.35" y2="67.15" stroke="#4f6c9e" stroke-width="0.95"/>
<line x1="435.65" y1="67.15" x2="432.35" y2="65.25" stroke="#4f6c9e" stroke-width="0.95"/>
<line x1="471.75" y1="57.5" x2="471.75" y2="61.3" stroke="#4f6c9e" stroke-width="0.95"/>
<line x1="473.4" y1="58.45" x2="470.1" y2="60.35" stroke="#4f6c9e" stroke-width="0.95"/>
<line x1="473.4" y1="60.35" x2="470.1" y2="58.45" stroke="#4f6c9e" stroke-width="0.95"/>
<line x1="292.4" y1="171.5" x2="292.4" y2="294.8" stroke="#222" stroke-width="1.3"/>
<line x1="291.8" y1="294.3" x2="485.8" y2="294.3" stroke="#222" stroke-width="1.3"/>
<line x1="289.2" y1="294.3" x2="292.4" y2="294.3" stroke="#222" stroke-width="1.1"/>
<text x="280.59" y="297.25" font-size="8.7" textLength="5.62" lengthAdjust="spacingAndGlyphs" fill="#2b2b2b" stroke="#2b2b2b" stroke-width="0.2">0</text>
<line x1="290.2" y1="282.36" x2="292.4" y2="282.36" stroke="#222" stroke-width="1"/>
<line x1="289.2" y1="270.42" x2="292.4" y2="270.42" stroke="#222" stroke-width="1.1"/>
<text x="271.79" y="273.37" font-size="8.7" textLength="14.42" lengthAdjust="spacingAndGlyphs" fill="#2b2b2b" stroke="#2b2b2b" stroke-width="0.2">100</text>
<line x1="290.2" y1="258.48" x2="292.4" y2="258.48" stroke="#222" stroke-width="1"/>
<line x1="289.2" y1="246.54" x2="292.4" y2="246.54" stroke="#222" stroke-width="1.1"/>
<text x="271.79" y="249.49" font-size="8.7" textLength="14.42" lengthAdjust="spacingAndGlyphs" fill="#2b2b2b" stroke="#2b2b2b" stroke-width="0.2">200</text>
<line x1="290.2" y1="234.6" x2="292.4" y2="234.6" stroke="#222" stroke-width="1"/>
<line x1="289.2" y1="222.66" x2="292.4" y2="222.66" stroke="#222" stroke-width="1.1"/>
<text x="271.79" y="225.61" font-size="8.7" textLength="14.42" lengthAdjust="spacingAndGlyphs" fill="#2b2b2b" stroke="#2b2b2b" stroke-width="0.2">300</text>
<line x1="290.2" y1="210.72" x2="292.4" y2="210.72" stroke="#222" stroke-width="1"/>
<line x1="289.2" y1="198.78" x2="292.4" y2="198.78" stroke="#222" stroke-width="1.1"/>
<text x="271.79" y="201.73" font-size="8.7" textLength="14.42" lengthAdjust="spacingAndGlyphs" fill="#2b2b2b" stroke="#2b2b2b" stroke-width="0.2">400</text>
<line x1="290.2" y1="186.84" x2="292.4" y2="186.84" stroke="#222" stroke-width="1"/>
<line x1="289.2" y1="174.9" x2="292.4" y2="174.9" stroke="#222" stroke-width="1.1"/>
<text x="271.79" y="177.85" font-size="8.7" textLength="14.42" lengthAdjust="spacingAndGlyphs" fill="#2b2b2b" stroke="#2b2b2b" stroke-width="0.2">500</text>
<text x="265.4" y="233.4" font-size="10.8" text-anchor="middle" textLength="63" lengthAdjust="spacingAndGlyphs" transform="rotate(-90 265.4 233.4)" fill="#3a3a3a">Abs. cell count</text>
<line x1="302.5" y1="282.3" x2="302.5" y2="289" stroke="#e2a954" stroke-width="1.3"/>
<line x1="299.5" y1="289" x2="304.7" y2="289" stroke="#da993d" stroke-width="1.2"/>
<line x1="340.5" y1="263" x2="340.5" y2="288.5" stroke="#e2a954" stroke-width="1.3"/>
<line x1="338.2" y1="263" x2="343.4" y2="263" stroke="#da993d" stroke-width="1.2"/>
<line x1="338.2" y1="288.5" x2="343.4" y2="288.5" stroke="#da993d" stroke-width="1.2"/>
<line x1="360.5" y1="259.6" x2="360.5" y2="286" stroke="#e2a954" stroke-width="1.3"/>
<line x1="357.55" y1="259.6" x2="362.75" y2="259.6" stroke="#da993d" stroke-width="1.2"/>
<line x1="357.55" y1="286" x2="362.75" y2="286" stroke="#da993d" stroke-width="1.2"/>
<line x1="379.5" y1="240" x2="379.5" y2="264.6" stroke="#e2a954" stroke-width="1.3"/>
<line x1="376.9" y1="240" x2="382.1" y2="240" stroke="#da993d" stroke-width="1.2"/>
<line x1="398.5" y1="236" x2="398.5" y2="285.4" stroke="#e2a954" stroke-width="1.3"/>
<line x1="396.25" y1="236" x2="401.45" y2="236" stroke="#da993d" stroke-width="1.2"/>
<line x1="396.25" y1="285.4" x2="401.45" y2="285.4" stroke="#da993d" stroke-width="1.2"/>
<line x1="418.5" y1="239.2" x2="418.5" y2="285" stroke="#e2a954" stroke-width="1.3"/>
<line x1="415.6" y1="239.2" x2="420.8" y2="239.2" stroke="#da993d" stroke-width="1.2"/>
<line x1="415.6" y1="285" x2="420.8" y2="285" stroke="#da993d" stroke-width="1.2"/>
<line x1="437.5" y1="247.9" x2="437.5" y2="275.4" stroke="#e2a954" stroke-width="1.3"/>
<line x1="434.95" y1="247.9" x2="440.15" y2="247.9" stroke="#da993d" stroke-width="1.2"/>
<line x1="456.5" y1="276.3" x2="456.5" y2="282" stroke="#e2a954" stroke-width="1.3"/>
<line x1="454.3" y1="282" x2="459.5" y2="282" stroke="#da993d" stroke-width="1.2"/>
<line x1="476.5" y1="241.2" x2="476.5" y2="286" stroke="#e2a954" stroke-width="1.3"/>
<line x1="473.65" y1="241.2" x2="478.85" y2="241.2" stroke="#da993d" stroke-width="1.2"/>
<line x1="473.65" y1="286" x2="478.85" y2="286" stroke="#da993d" stroke-width="1.2"/>
<line x1="302.5" y1="196.3" x2="302.5" y2="255.8" stroke="#d6d2d5" stroke-width="1.3"/>
<line x1="299.5" y1="196.3" x2="304.7" y2="196.3" stroke="#cdc8cb" stroke-width="1.2"/>
<line x1="299.5" y1="255.8" x2="304.7" y2="255.8" stroke="#cdc8cb" stroke-width="1.2"/>
<line x1="340.5" y1="235.8" x2="340.5" y2="273.1" stroke="#d6d2d5" stroke-width="1.3"/>
<line x1="338.2" y1="235.8" x2="343.4" y2="235.8" stroke="#cdc8cb" stroke-width="1.2"/>
<line x1="360.5" y1="259.6" x2="360.5" y2="274.6" stroke="#d6d2d5" stroke-width="1.3"/>
<line x1="357.55" y1="259.6" x2="362.75" y2="259.6" stroke="#cdc8cb" stroke-width="1.2"/>
<line x1="379.5" y1="234.6" x2="379.5" y2="259.6" stroke="#d6d2d5" stroke-width="1.3"/>
<line x1="376.9" y1="234.6" x2="382.1" y2="234.6" stroke="#cdc8cb" stroke-width="1.2"/>
<line x1="398.5" y1="243" x2="398.5" y2="269" stroke="#d6d2d5" stroke-width="1.3"/>
<line x1="396.25" y1="243" x2="401.45" y2="243" stroke="#cdc8cb" stroke-width="1.2"/>
<line x1="418.5" y1="252.7" x2="418.5" y2="274.8" stroke="#d6d2d5" stroke-width="1.3"/>
<line x1="415.6" y1="252.7" x2="420.8" y2="252.7" stroke="#cdc8cb" stroke-width="1.2"/>
<line x1="456.5" y1="276.3" x2="456.5" y2="286" stroke="#d6d2d5" stroke-width="1.3"/>
<line x1="454.3" y1="286" x2="459.5" y2="286" stroke="#cdc8cb" stroke-width="1.2"/>
<line x1="302.5" y1="235.8" x2="302.5" y2="288.5" stroke="#6580aa" stroke-width="1.3"/>
<line x1="299.5" y1="235.8" x2="304.7" y2="235.8" stroke="#4a628b" stroke-width="1.2"/>
<line x1="299.5" y1="288.5" x2="304.7" y2="288.5" stroke="#4a628b" stroke-width="1.2"/>
<line x1="340.5" y1="266.9" x2="340.5" y2="288.5" stroke="#6580aa" stroke-width="1.3"/>
<line x1="338.2" y1="266.9" x2="343.4" y2="266.9" stroke="#4a628b" stroke-width="1.2"/>
<line x1="338.2" y1="288.5" x2="343.4" y2="288.5" stroke="#4a628b" stroke-width="1.2"/>
<line x1="360.5" y1="271.7" x2="360.5" y2="291" stroke="#6580aa" stroke-width="1.3"/>
<line x1="357.55" y1="271.7" x2="362.75" y2="271.7" stroke="#4a628b" stroke-width="1.2"/>
<line x1="357.55" y1="291" x2="362.75" y2="291" stroke="#4a628b" stroke-width="1.2"/>
<line x1="379.5" y1="256.7" x2="379.5" y2="287.1" stroke="#6580aa" stroke-width="1.3"/>
<line x1="376.9" y1="256.7" x2="382.1" y2="256.7" stroke="#4a628b" stroke-width="1.2"/>
<line x1="376.9" y1="287.1" x2="382.1" y2="287.1" stroke="#4a628b" stroke-width="1.2"/>
<line x1="398.5" y1="248.5" x2="398.5" y2="287.7" stroke="#6580aa" stroke-width="1.3"/>
<line x1="396.25" y1="248.5" x2="401.45" y2="248.5" stroke="#4a628b" stroke-width="1.2"/>
<line x1="396.25" y1="287.7" x2="401.45" y2="287.7" stroke="#4a628b" stroke-width="1.2"/>
<line x1="418.5" y1="260.4" x2="418.5" y2="286.3" stroke="#6580aa" stroke-width="1.3"/>
<line x1="415.6" y1="260.4" x2="420.8" y2="260.4" stroke="#4a628b" stroke-width="1.2"/>
<line x1="415.6" y1="286.3" x2="420.8" y2="286.3" stroke="#4a628b" stroke-width="1.2"/>
<line x1="437.5" y1="260.4" x2="437.5" y2="286.9" stroke="#6580aa" stroke-width="1.3"/>
<line x1="434.95" y1="260.4" x2="440.15" y2="260.4" stroke="#4a628b" stroke-width="1.2"/>
<line x1="434.95" y1="286.9" x2="440.15" y2="286.9" stroke="#4a628b" stroke-width="1.2"/>
<line x1="456.5" y1="259" x2="456.5" y2="286" stroke="#6580aa" stroke-width="1.3"/>
<line x1="454.3" y1="259" x2="459.5" y2="259" stroke="#4a628b" stroke-width="1.2"/>
<line x1="454.3" y1="286" x2="459.5" y2="286" stroke="#4a628b" stroke-width="1.2"/>
<line x1="476.5" y1="259" x2="476.5" y2="285.4" stroke="#6580aa" stroke-width="1.3"/>
<line x1="473.65" y1="259" x2="478.85" y2="259" stroke="#4a628b" stroke-width="1.2"/>
<line x1="473.65" y1="285.4" x2="478.85" y2="285.4" stroke="#4a628b" stroke-width="1.2"/>
<polyline points="340.8,273.1 360.15,274.6 379.5,259.6 398.85,269 418.2,274.8 437.55,273.8 456.9,276.3 476.25,278" fill="none" stroke="#cdc8cb" stroke-width="1.6" stroke-linejoin="round"/>
<polyline points="340.8,276.5 360.15,279.4 379.5,264.6 398.85,265.2 418.2,273.8 437.55,275.4 456.9,276.3 476.25,266.7" fill="none" stroke="#da993d" stroke-width="1.6" stroke-linejoin="round"/>
<polyline points="340.8,279.4 360.15,281.9 379.5,278.5 398.85,275.8 418.2,271.3 437.55,281.5 456.9,277.7 476.25,279.6" fill="none" stroke="#4a628b" stroke-width="1.6" stroke-linejoin="round"/>
<circle cx="302.1" cy="282.3" r="3.1" fill="#da993d"/>
<circle cx="340.8" cy="276.5" r="3.1" fill="#da993d"/>
<circle cx="360.15" cy="279.4" r="3.1" fill="#da993d"/>
<circle cx="379.5" cy="264.6" r="3.1" fill="#da993d"/>
<circle cx="398.85" cy="265.2" r="3.1" fill="#da993d"/>
<circle cx="418.2" cy="273.8" r="3.1" fill="#da993d"/>
<circle cx="437.55" cy="275.4" r="3.1" fill="#da993d"/>
<circle cx="456.9" cy="276.3" r="3.1" fill="#da993d"/>
<circle cx="476.25" cy="266.7" r="3.1" fill="#da993d"/>
<circle cx="302.1" cy="221.2" r="3.1" fill="#cdc8cb"/>
<circle cx="340.8" cy="273.1" r="3.1" fill="#cdc8cb"/>
<circle cx="360.15" cy="274.6" r="3.1" fill="#cdc8cb"/>
<circle cx="379.5" cy="259.6" r="3.1" fill="#cdc8cb"/>
<circle cx="398.85" cy="269" r="3.1" fill="#cdc8cb"/>
<circle cx="418.2" cy="274.8" r="3.1" fill="#cdc8cb"/>
<circle cx="437.55" cy="273.8" r="3.1" fill="#cdc8cb"/>
<circle cx="456.9" cy="276.3" r="3.1" fill="#cdc8cb"/>
<circle cx="476.25" cy="278" r="3.1" fill="#cdc8cb"/>
<circle cx="302.1" cy="267.3" r="3.1" fill="#4a628b"/>
<circle cx="340.8" cy="279.4" r="3.1" fill="#4a628b"/>
<circle cx="360.15" cy="281.9" r="3.1" fill="#4a628b"/>
<circle cx="379.5" cy="278.5" r="3.1" fill="#4a628b"/>
<circle cx="398.85" cy="275.8" r="3.1" fill="#4a628b"/>
<circle cx="418.2" cy="271.3" r="3.1" fill="#4a628b"/>
<circle cx="437.55" cy="281.5" r="3.1" fill="#4a628b"/>
<circle cx="456.9" cy="277.7" r="3.1" fill="#4a628b"/>
<circle cx="476.25" cy="279.6" r="3.1" fill="#4a628b"/>
<text x="302.1" y="305.8" font-size="8.4" text-anchor="middle" textLength="13.08" lengthAdjust="spacingAndGlyphs" fill="#2b2b2b" stroke="#2b2b2b" stroke-width="0.2">HD</text>
<text x="340.8" y="308" font-size="8.4" text-anchor="middle" textLength="12.98" lengthAdjust="spacingAndGlyphs" fill="#2b2b2b" stroke="#2b2b2b" stroke-width="0.2">W0</text>
<text x="360.15" y="308" font-size="8.4" text-anchor="middle" textLength="12.58" lengthAdjust="spacingAndGlyphs" fill="#2b2b2b" stroke="#2b2b2b" stroke-width="0.2">W1</text>
<text x="379.5" y="308" font-size="8.4" text-anchor="middle" textLength="12.98" lengthAdjust="spacingAndGlyphs" fill="#2b2b2b" stroke="#2b2b2b" stroke-width="0.2">W2</text>
<text x="398.85" y="308" font-size="8.4" text-anchor="middle" textLength="12.98" lengthAdjust="spacingAndGlyphs" fill="#2b2b2b" stroke="#2b2b2b" stroke-width="0.2">W4</text>
<text x="418.2" y="308" font-size="8.4" text-anchor="middle" textLength="12.98" lengthAdjust="spacingAndGlyphs" fill="#2b2b2b" stroke="#2b2b2b" stroke-width="0.2">W6</text>
<text x="437.55" y="308" font-size="8.4" text-anchor="middle" textLength="12.98" lengthAdjust="spacingAndGlyphs" fill="#2b2b2b" stroke="#2b2b2b" stroke-width="0.2">W8</text>
<text x="456.9" y="308" font-size="8.4" text-anchor="middle" textLength="16.78" lengthAdjust="spacingAndGlyphs" fill="#2b2b2b" stroke="#2b2b2b" stroke-width="0.2">W12</text>
<text x="476.25" y="308" font-size="8.4" text-anchor="middle" textLength="12.98" lengthAdjust="spacingAndGlyphs" fill="#2b2b2b" stroke="#2b2b2b" stroke-width="0.2">6M</text>
<line x1="437.7" y1="177.1" x2="456.5" y2="177.1" stroke="#da993d" stroke-width="1.4"/>
<circle cx="447.1" cy="177.1" r="3.1" fill="#da993d"/>
<text x="459.82" y="179.8" font-size="8.3" textLength="12.76" lengthAdjust="spacingAndGlyphs" fill="#2b2b2b" stroke="#2b2b2b" stroke-width="0.2">CM</text>
<line x1="437.7" y1="195.4" x2="456.5" y2="195.4" stroke="#cdc8cb" stroke-width="1.4"/>
<circle cx="447.1" cy="195.4" r="3.1" fill="#cdc8cb"/>
<text x="459.82" y="198.1" font-size="8.3" textLength="11.76" lengthAdjust="spacingAndGlyphs" fill="#2b2b2b" stroke="#2b2b2b" stroke-width="0.2">EM</text>
<line x1="437.7" y1="214.2" x2="456.5" y2="214.2" stroke="#4a628b" stroke-width="1.4"/>
<circle cx="447.1" cy="214.2" r="3.1" fill="#4a628b"/>
<text x="459.82" y="216.9" font-size="8.3" textLength="20.26" lengthAdjust="spacingAndGlyphs" fill="#2b2b2b" stroke="#2b2b2b" stroke-width="0.2">Naïve</text>
<line x1="292.4" y1="332" x2="292.4" y2="455.9" stroke="#222" stroke-width="1.3"/>
<line x1="291.8" y1="455.4" x2="485.8" y2="455.4" stroke="#222" stroke-width="1.3"/>
<line x1="289.2" y1="455.4" x2="292.4" y2="455.4" stroke="#222" stroke-width="1.1"/>
<text x="280.59" y="458.35" font-size="8.7" textLength="5.62" lengthAdjust="spacingAndGlyphs" fill="#2b2b2b" stroke="#2b2b2b" stroke-width="0.2">0</text>
<line x1="290.2" y1="443.38" x2="292.4" y2="443.38" stroke="#222" stroke-width="1"/>
<line x1="289.2" y1="431.36" x2="292.4" y2="431.36" stroke="#222" stroke-width="1.1"/>
<text x="271.79" y="434.31" font-size="8.7" textLength="14.42" lengthAdjust="spacingAndGlyphs" fill="#2b2b2b" stroke="#2b2b2b" stroke-width="0.2">100</text>
<line x1="290.2" y1="419.34" x2="292.4" y2="419.34" stroke="#222" stroke-width="1"/>
<line x1="289.2" y1="407.32" x2="292.4" y2="407.32" stroke="#222" stroke-width="1.1"/>
<text x="271.79" y="410.27" font-size="8.7" textLength="14.42" lengthAdjust="spacingAndGlyphs" fill="#2b2b2b" stroke="#2b2b2b" stroke-width="0.2">200</text>
<line x1="290.2" y1="395.3" x2="292.4" y2="395.3" stroke="#222" stroke-width="1"/>
<line x1="289.2" y1="383.28" x2="292.4" y2="383.28" stroke="#222" stroke-width="1.1"/>
<text x="271.79" y="386.23" font-size="8.7" textLength="14.42" lengthAdjust="spacingAndGlyphs" fill="#2b2b2b" stroke="#2b2b2b" stroke-width="0.2">300</text>
<line x1="290.2" y1="371.26" x2="292.4" y2="371.26" stroke="#222" stroke-width="1"/>
<line x1="289.2" y1="359.24" x2="292.4" y2="359.24" stroke="#222" stroke-width="1.1"/>
<text x="271.79" y="362.19" font-size="8.7" textLength="14.42" lengthAdjust="spacingAndGlyphs" fill="#2b2b2b" stroke="#2b2b2b" stroke-width="0.2">400</text>
<line x1="290.2" y1="347.22" x2="292.4" y2="347.22" stroke="#222" stroke-width="1"/>
<line x1="289.2" y1="335.2" x2="292.4" y2="335.2" stroke="#222" stroke-width="1.1"/>
<text x="271.79" y="338.15" font-size="8.7" textLength="14.42" lengthAdjust="spacingAndGlyphs" fill="#2b2b2b" stroke="#2b2b2b" stroke-width="0.2">500</text>
<text x="265.4" y="394.5" font-size="10.8" text-anchor="middle" textLength="63" lengthAdjust="spacingAndGlyphs" transform="rotate(-90 265.4 394.5)" fill="#3a3a3a">Abs. cell count</text>
<line x1="379.5" y1="449.2" x2="379.5" y2="453.5" stroke="#e2a954" stroke-width="1.3"/>
<line x1="376.76" y1="453.5" x2="381.96" y2="453.5" stroke="#d8903b" stroke-width="1.2"/>
<line x1="302.5" y1="430.4" x2="302.5" y2="439" stroke="#d6d2d5" stroke-width="1.3"/>
<line x1="299.5" y1="430.4" x2="304.7" y2="430.4" stroke="#cdc8cb" stroke-width="1.2"/>
<line x1="340.5" y1="433.6" x2="340.5" y2="446.3" stroke="#d6d2d5" stroke-width="1.3"/>
<line x1="338" y1="433.6" x2="343.2" y2="433.6" stroke="#cdc8cb" stroke-width="1.2"/>
<line x1="359.5" y1="419" x2="359.5" y2="439" stroke="#d6d2d5" stroke-width="1.3"/>
<line x1="357.38" y1="419" x2="362.58" y2="419" stroke="#cdc8cb" stroke-width="1.2"/>
<line x1="379.5" y1="420" x2="379.5" y2="430.4" stroke="#d6d2d5" stroke-width="1.3"/>
<line x1="376.76" y1="420" x2="381.96" y2="420" stroke="#cdc8cb" stroke-width="1.2"/>
<line x1="398.5" y1="420.5" x2="398.5" y2="440" stroke="#d6d2d5" stroke-width="1.3"/>
<line x1="396.14" y1="420.5" x2="401.34" y2="420.5" stroke="#cdc8cb" stroke-width="1.2"/>
<line x1="418.5" y1="424" x2="418.5" y2="445.3" stroke="#d6d2d5" stroke-width="1.3"/>
<line x1="415.52" y1="424" x2="420.72" y2="424" stroke="#cdc8cb" stroke-width="1.2"/>
<line x1="437.5" y1="427" x2="437.5" y2="444.2" stroke="#d6d2d5" stroke-width="1.3"/>
<line x1="434.9" y1="427" x2="440.1" y2="427" stroke="#cdc8cb" stroke-width="1.2"/>
<line x1="302.5" y1="422.7" x2="302.5" y2="434.2" stroke="#efc65c" stroke-width="1.3"/>
<line x1="299.5" y1="422.7" x2="304.7" y2="422.7" stroke="#ebbc40" stroke-width="1.2"/>
<line x1="340.5" y1="412.3" x2="340.5" y2="437.7" stroke="#efc65c" stroke-width="1.3"/>
<line x1="338" y1="412.3" x2="343.2" y2="412.3" stroke="#ebbc40" stroke-width="1.2"/>
<line x1="359.5" y1="391.5" x2="359.5" y2="427.5" stroke="#efc65c" stroke-width="1.3"/>
<line x1="357.38" y1="391.5" x2="362.58" y2="391.5" stroke="#ebbc40" stroke-width="1.2"/>
<line x1="379.5" y1="356.9" x2="379.5" y2="416.5" stroke="#efc65c" stroke-width="1.3"/>
<line x1="376.76" y1="356.9" x2="381.96" y2="356.9" stroke="#ebbc40" stroke-width="1.2"/>
<line x1="398.5" y1="372.3" x2="398.5" y2="427.7" stroke="#efc65c" stroke-width="1.3"/>
<line x1="396.14" y1="372.3" x2="401.34" y2="372.3" stroke="#ebbc40" stroke-width="1.2"/>
<line x1="418.5" y1="401.9" x2="418.5" y2="419.9" stroke="#efc65c" stroke-width="1.3"/>
<line x1="415.52" y1="401.9" x2="420.72" y2="401.9" stroke="#ebbc40" stroke-width="1.2"/>
<line x1="437.5" y1="348" x2="437.5" y2="415.7" stroke="#efc65c" stroke-width="1.3"/>
<line x1="434.9" y1="348" x2="440.1" y2="348" stroke="#ebbc40" stroke-width="1.2"/>
<line x1="456.5" y1="397.3" x2="456.5" y2="432.2" stroke="#efc65c" stroke-width="1.3"/>
<line x1="454.28" y1="397.3" x2="459.48" y2="397.3" stroke="#ebbc40" stroke-width="1.2"/>
<line x1="476.5" y1="403.6" x2="476.5" y2="443.6" stroke="#efc65c" stroke-width="1.3"/>
<line x1="473.66" y1="403.6" x2="478.86" y2="403.6" stroke="#ebbc40" stroke-width="1.2"/>
<line x1="340.5" y1="429.6" x2="340.5" y2="439.2" stroke="#6580aa" stroke-width="1.3"/>
<line x1="338" y1="429.6" x2="343.2" y2="429.6" stroke="#4a628b" stroke-width="1.2"/>
<line x1="379.5" y1="426.7" x2="379.5" y2="436.3" stroke="#6580aa" stroke-width="1.3"/>
<line x1="376.76" y1="426.7" x2="381.96" y2="426.7" stroke="#4a628b" stroke-width="1.2"/>
<line x1="398.5" y1="429.4" x2="398.5" y2="439.6" stroke="#6580aa" stroke-width="1.3"/>
<line x1="396.14" y1="429.4" x2="401.34" y2="429.4" stroke="#4a628b" stroke-width="1.2"/>
<line x1="418.5" y1="429.4" x2="418.5" y2="438.5" stroke="#6580aa" stroke-width="1.3"/>
<line x1="415.52" y1="429.4" x2="420.72" y2="429.4" stroke="#4a628b" stroke-width="1.2"/>
<line x1="437.5" y1="427.7" x2="437.5" y2="439.6" stroke="#6580aa" stroke-width="1.3"/>
<line x1="434.9" y1="427.7" x2="440.1" y2="427.7" stroke="#4a628b" stroke-width="1.2"/>
<line x1="456.5" y1="424.1" x2="456.5" y2="436.8" stroke="#6580aa" stroke-width="1.3"/>
<line x1="454.28" y1="424.1" x2="459.48" y2="424.1" stroke="#4a628b" stroke-width="1.2"/>
<line x1="476.5" y1="419.9" x2="476.5" y2="436.4" stroke="#6580aa" stroke-width="1.3"/>
<line x1="473.66" y1="419.9" x2="478.86" y2="419.9" stroke="#4a628b" stroke-width="1.2"/>
<polyline points="340.6,452.1 359.98,450.2 379.36,449.2 398.74,451 418.12,451.9 437.5,451.9 456.88,452.3 476.26,452.7" fill="none" stroke="#d8903b" stroke-width="1.6" stroke-linejoin="round"/>
<polyline points="340.6,446.3 359.98,439 379.36,430.4 398.74,440 418.12,445.3 437.5,444.2 456.88,446.6 476.26,447.8" fill="none" stroke="#cdc8cb" stroke-width="1.6" stroke-linejoin="round"/>
<polyline points="340.6,437.7 359.98,427.5 379.36,416.5 398.74,427.7 418.12,419.9 437.5,415.7 456.88,432.2 476.26,443.6" fill="none" stroke="#ebbc40" stroke-width="1.6" stroke-linejoin="round"/>
<polyline points="340.6,439.2 359.98,444.4 379.36,436.3 398.74,439.6 418.12,438.5 437.5,439.6 456.88,436.8 476.26,436.4" fill="none" stroke="#4a628b" stroke-width="1.6" stroke-linejoin="round"/>
<circle cx="302.1" cy="451.7" r="3.1" fill="#d8903b"/>
<circle cx="340.6" cy="452.1" r="3.1" fill="#d8903b"/>
<circle cx="359.98" cy="450.2" r="3.1" fill="#d8903b"/>
<circle cx="379.36" cy="449.2" r="3.1" fill="#d8903b"/>
<circle cx="398.74" cy="451" r="3.1" fill="#d8903b"/>
<circle cx="418.12" cy="451.9" r="3.1" fill="#d8903b"/>
<circle cx="437.5" cy="451.9" r="3.1" fill="#d8903b"/>
<circle cx="456.88" cy="452.3" r="3.1" fill="#d8903b"/>
<circle cx="476.26" cy="452.7" r="3.1" fill="#d8903b"/>
<circle cx="302.1" cy="439" r="3.1" fill="#cdc8cb"/>
<circle cx="340.6" cy="446.3" r="3.1" fill="#cdc8cb"/>
<circle cx="359.98" cy="439" r="3.1" fill="#cdc8cb"/>
<circle cx="379.36" cy="430.4" r="3.1" fill="#cdc8cb"/>
<circle cx="398.74" cy="440" r="3.1" fill="#cdc8cb"/>
<circle cx="418.12" cy="445.3" r="3.1" fill="#cdc8cb"/>
<circle cx="437.5" cy="444.2" r="3.1" fill="#cdc8cb"/>
<circle cx="456.88" cy="446.6" r="3.1" fill="#cdc8cb"/>
<circle cx="476.26" cy="447.8" r="3.1" fill="#cdc8cb"/>
<circle cx="302.1" cy="434.2" r="3.1" fill="#ebbc40"/>
<circle cx="340.6" cy="437.7" r="3.1" fill="#ebbc40"/>
<circle cx="359.98" cy="427.5" r="3.1" fill="#ebbc40"/>
<circle cx="379.36" cy="416.5" r="3.1" fill="#ebbc40"/>
<circle cx="398.74" cy="427.7" r="3.1" fill="#ebbc40"/>
<circle cx="418.12" cy="419.9" r="3.1" fill="#ebbc40"/>
<circle cx="437.5" cy="415.7" r="3.1" fill="#ebbc40"/>
<circle cx="456.88" cy="432.2" r="3.1" fill="#ebbc40"/>
<circle cx="476.26" cy="443.6" r="3.1" fill="#ebbc40"/>
<circle cx="302.1" cy="445.4" r="3.1" fill="#4a628b"/>
<circle cx="340.6" cy="439.2" r="3.1" fill="#4a628b"/>
<circle cx="359.98" cy="444.4" r="3.1" fill="#4a628b"/>
<circle cx="379.36" cy="436.3" r="3.1" fill="#4a628b"/>
<circle cx="398.74" cy="439.6" r="3.1" fill="#4a628b"/>
<circle cx="418.12" cy="438.5" r="3.1" fill="#4a628b"/>
<circle cx="437.5" cy="439.6" r="3.1" fill="#4a628b"/>
<circle cx="456.88" cy="436.8" r="3.1" fill="#4a628b"/>
<circle cx="476.26" cy="436.4" r="3.1" fill="#4a628b"/>
<text x="302.1" y="465.8" font-size="8.4" text-anchor="middle" textLength="13.08" lengthAdjust="spacingAndGlyphs" fill="#2b2b2b" stroke="#2b2b2b" stroke-width="0.2">HD</text>
<text x="340.6" y="469.5" font-size="8.4" text-anchor="middle" textLength="12.98" lengthAdjust="spacingAndGlyphs" fill="#2b2b2b" stroke="#2b2b2b" stroke-width="0.2">W0</text>
<text x="359.98" y="469.5" font-size="8.4" text-anchor="middle" textLength="12.58" lengthAdjust="spacingAndGlyphs" fill="#2b2b2b" stroke="#2b2b2b" stroke-width="0.2">W1</text>
<text x="379.36" y="469.5" font-size="8.4" text-anchor="middle" textLength="12.98" lengthAdjust="spacingAndGlyphs" fill="#2b2b2b" stroke="#2b2b2b" stroke-width="0.2">W2</text>
<text x="398.74" y="469.5" font-size="8.4" text-anchor="middle" textLength="12.98" lengthAdjust="spacingAndGlyphs" fill="#2b2b2b" stroke="#2b2b2b" stroke-width="0.2">W4</text>
<text x="418.12" y="469.5" font-size="8.4" text-anchor="middle" textLength="12.98" lengthAdjust="spacingAndGlyphs" fill="#2b2b2b" stroke="#2b2b2b" stroke-width="0.2">W6</text>
<text x="437.5" y="469.5" font-size="8.4" text-anchor="middle" textLength="12.98" lengthAdjust="spacingAndGlyphs" fill="#2b2b2b" stroke="#2b2b2b" stroke-width="0.2">W8</text>
<text x="456.88" y="469.5" font-size="8.4" text-anchor="middle" textLength="16.78" lengthAdjust="spacingAndGlyphs" fill="#2b2b2b" stroke="#2b2b2b" stroke-width="0.2">W12</text>
<text x="476.26" y="469.5" font-size="8.4" text-anchor="middle" textLength="12.98" lengthAdjust="spacingAndGlyphs" fill="#2b2b2b" stroke="#2b2b2b" stroke-width="0.2">6M</text>
<line x1="306.9" y1="344.4" x2="325.6" y2="344.4" stroke="#d8903b" stroke-width="1.4"/>
<circle cx="316.25" cy="344.4" r="3.1" fill="#d8903b"/>
<text x="328.82" y="347.1" font-size="8.3" textLength="12.76" lengthAdjust="spacingAndGlyphs" fill="#2b2b2b" stroke="#2b2b2b" stroke-width="0.2">CM</text>
<line x1="306.9" y1="360.2" x2="325.6" y2="360.2" stroke="#cdc8cb" stroke-width="1.4"/>
<circle cx="316.25" cy="360.2" r="3.1" fill="#cdc8cb"/>
<text x="328.82" y="362.9" font-size="8.3" textLength="11.76" lengthAdjust="spacingAndGlyphs" fill="#2b2b2b" stroke="#2b2b2b" stroke-width="0.2">EM</text>
<line x1="306.9" y1="375.8" x2="325.6" y2="375.8" stroke="#ebbc40" stroke-width="1.4"/>
<circle cx="316.25" cy="375.8" r="3.1" fill="#ebbc40"/>
<text x="328.82" y="378.5" font-size="8.3" textLength="25.26" lengthAdjust="spacingAndGlyphs" fill="#2b2b2b" stroke="#2b2b2b" stroke-width="0.2">TEMRA</text>
<line x1="306.9" y1="391.5" x2="325.6" y2="391.5" stroke="#4a628b" stroke-width="1.4"/>
<circle cx="316.25" cy="391.5" r="3.1" fill="#4a628b"/>
<text x="328.82" y="394.2" font-size="8.3" textLength="20.26" lengthAdjust="spacingAndGlyphs" fill="#2b2b2b" stroke="#2b2b2b" stroke-width="0.2">Naïve</text>
<text x="336.29" y="483.8" font-size="10.2" textLength="105.18" lengthAdjust="spacingAndGlyphs" fill="#2b2b2b">Time after IL-2 initiation</text>
<text x="281.39" y="497.5" font-size="8.7" textLength="6.42" lengthAdjust="spacingAndGlyphs" fill="#2b2b2b" stroke="#2b2b2b" stroke-width="0.2">N</text>
<text x="286.99" y="497.5" font-size="8.7" textLength="2.52" lengthAdjust="spacingAndGlyphs" fill="#2b2b2b" stroke="#2b2b2b" stroke-width="0.2">:</text>
<text x="302.1" y="497.5" font-size="8.7" text-anchor="middle" textLength="10.52" lengthAdjust="spacingAndGlyphs" fill="#2b2b2b" stroke="#2b2b2b" stroke-width="0.2">24</text>
<text x="340.6" y="497.5" font-size="8.7" text-anchor="middle" textLength="10.52" lengthAdjust="spacingAndGlyphs" fill="#2b2b2b" stroke="#2b2b2b" stroke-width="0.2">26</text>
<text x="359.98" y="497.5" font-size="8.7" text-anchor="middle" textLength="10.52" lengthAdjust="spacingAndGlyphs" fill="#2b2b2b" stroke="#2b2b2b" stroke-width="0.2">25</text>
<text x="379.36" y="497.5" font-size="8.7" text-anchor="middle" textLength="10.52" lengthAdjust="spacingAndGlyphs" fill="#2b2b2b" stroke="#2b2b2b" stroke-width="0.2">27</text>
<text x="398.74" y="497.5" font-size="8.7" text-anchor="middle" textLength="10.52" lengthAdjust="spacingAndGlyphs" fill="#2b2b2b" stroke="#2b2b2b" stroke-width="0.2">28</text>
<text x="418.12" y="497.5" font-size="8.7" text-anchor="middle" textLength="10.52" lengthAdjust="spacingAndGlyphs" fill="#2b2b2b" stroke="#2b2b2b" stroke-width="0.2">31</text>
<text x="437.5" y="497.5" font-size="8.7" text-anchor="middle" textLength="10.52" lengthAdjust="spacingAndGlyphs" fill="#2b2b2b" stroke="#2b2b2b" stroke-width="0.2">29</text>
<text x="456.88" y="497.5" font-size="8.7" text-anchor="middle" textLength="10.52" lengthAdjust="spacingAndGlyphs" fill="#2b2b2b" stroke="#2b2b2b" stroke-width="0.2">28</text>
<text x="476.26" y="497.5" font-size="8.7" text-anchor="middle" textLength="10.52" lengthAdjust="spacingAndGlyphs" fill="#2b2b2b" stroke="#2b2b2b" stroke-width="0.2">25</text>
<text x="7.4" y="527.1" font-size="12.5" fill="#2b2b2b">D</text>
<line x1="52.9" y1="526" x2="52.9" y2="641.5" stroke="#222" stroke-width="1.3"/>
<line x1="49.5" y1="641" x2="240" y2="641" stroke="#222" stroke-width="1.3"/>
<line x1="49.5" y1="641.1" x2="52.9" y2="641.1" stroke="#222" stroke-width="1.1"/>
<text x="41.39" y="644.05" font-size="8.7" textLength="5.62" lengthAdjust="spacingAndGlyphs" fill="#2b2b2b" stroke="#2b2b2b" stroke-width="0.2">0</text>
<line x1="49.5" y1="618.66" x2="52.9" y2="618.66" stroke="#222" stroke-width="1.1"/>
<text x="36.79" y="621.61" font-size="8.7" textLength="10.22" lengthAdjust="spacingAndGlyphs" fill="#2b2b2b" stroke="#2b2b2b" stroke-width="0.2">10</text>
<line x1="49.5" y1="596.22" x2="52.9" y2="596.22" stroke="#222" stroke-width="1.1"/>
<text x="36.79" y="599.17" font-size="8.7" textLength="10.22" lengthAdjust="spacingAndGlyphs" fill="#2b2b2b" stroke="#2b2b2b" stroke-width="0.2">20</text>
<line x1="49.5" y1="573.78" x2="52.9" y2="573.78" stroke="#222" stroke-width="1.1"/>
<text x="36.79" y="576.73" font-size="8.7" textLength="10.22" lengthAdjust="spacingAndGlyphs" fill="#2b2b2b" stroke="#2b2b2b" stroke-width="0.2">30</text>
<line x1="49.5" y1="551.34" x2="52.9" y2="551.34" stroke="#222" stroke-width="1.1"/>
<text x="36.79" y="554.29" font-size="8.7" textLength="10.22" lengthAdjust="spacingAndGlyphs" fill="#2b2b2b" stroke="#2b2b2b" stroke-width="0.2">40</text>
<line x1="49.5" y1="528.9" x2="52.9" y2="528.9" stroke="#222" stroke-width="1.1"/>
<text x="36.79" y="531.85" font-size="8.7" textLength="10.22" lengthAdjust="spacingAndGlyphs" fill="#2b2b2b" stroke="#2b2b2b" stroke-width="0.2">50</text>
<text x="31.2" y="584" font-size="10.8" text-anchor="middle" textLength="128.6" lengthAdjust="spacingAndGlyphs" transform="rotate(-90 31.2 584)" fill="#3a3a3a">%Ki67 positive cells (median)</text>
<line x1="62.5" y1="623.75" x2="62.5" y2="641" stroke="#6580aa" stroke-width="1.3"/>
<line x1="59.6" y1="623.75" x2="64.8" y2="623.75" stroke="#4a6590" stroke-width="1.2"/>
<line x1="59.6" y1="641" x2="64.8" y2="641" stroke="#4a6590" stroke-width="1.2"/>
<line x1="99.5" y1="625" x2="99.5" y2="641" stroke="#6580aa" stroke-width="1.3"/>
<line x1="97" y1="625" x2="102.2" y2="625" stroke="#4a6590" stroke-width="1.2"/>
<line x1="97" y1="641" x2="102.2" y2="641" stroke="#4a6590" stroke-width="1.2"/>
<line x1="118.5" y1="553.75" x2="118.5" y2="611.25" stroke="#6580aa" stroke-width="1.3"/>
<line x1="115.72" y1="553.75" x2="120.92" y2="553.75" stroke="#4a6590" stroke-width="1.2"/>
<line x1="115.72" y1="611.25" x2="120.92" y2="611.25" stroke="#4a6590" stroke-width="1.2"/>
<line x1="137.5" y1="627" x2="137.5" y2="637.5" stroke="#6580aa" stroke-width="1.3"/>
<line x1="134.44" y1="627" x2="139.64" y2="627" stroke="#4a6590" stroke-width="1.2"/>
<line x1="134.44" y1="637.5" x2="139.64" y2="637.5" stroke="#4a6590" stroke-width="1.2"/>
<line x1="155.5" y1="632.5" x2="155.5" y2="641" stroke="#6580aa" stroke-width="1.3"/>
<line x1="153.16" y1="632.5" x2="158.36" y2="632.5" stroke="#4a6590" stroke-width="1.2"/>
<line x1="153.16" y1="641" x2="158.36" y2="641" stroke="#4a6590" stroke-width="1.2"/>
<line x1="174.5" y1="634" x2="174.5" y2="641" stroke="#6580aa" stroke-width="1.3"/>
<line x1="171.88" y1="634" x2="177.08" y2="634" stroke="#4a6590" stroke-width="1.2"/>
<line x1="171.88" y1="641" x2="177.08" y2="641" stroke="#4a6590" stroke-width="1.2"/>
<line x1="193.5" y1="634" x2="193.5" y2="641" stroke="#6580aa" stroke-width="1.3"/>
<line x1="190.6" y1="634" x2="195.8" y2="634" stroke="#4a6590" stroke-width="1.2"/>
<line x1="190.6" y1="641" x2="195.8" y2="641" stroke="#4a6590" stroke-width="1.2"/>
<line x1="211.5" y1="633.25" x2="211.5" y2="641" stroke="#6580aa" stroke-width="1.3"/>
<line x1="209.32" y1="633.25" x2="214.52" y2="633.25" stroke="#4a6590" stroke-width="1.2"/>
<line x1="209.32" y1="641" x2="214.52" y2="641" stroke="#4a6590" stroke-width="1.2"/>
<line x1="230.5" y1="630" x2="230.5" y2="641" stroke="#6580aa" stroke-width="1.3"/>
<line x1="228.04" y1="630" x2="233.24" y2="630" stroke="#4a6590" stroke-width="1.2"/>
<line x1="228.04" y1="641" x2="233.24" y2="641" stroke="#4a6590" stroke-width="1.2"/>
<polyline points="99.6,640.75 118.32,582.5 137.04,632 155.76,638.75 174.48,639.25 193.2,638 211.92,640 230.64,640.5" fill="none" stroke="#4a6590" stroke-width="1.6" stroke-linejoin="round"/>
<circle cx="62.2" cy="636.25" r="3" fill="#4a6590"/>
<circle cx="99.6" cy="640.75" r="3" fill="#4a6590"/>
<circle cx="118.32" cy="582.5" r="3" fill="#4a6590"/>
<circle cx="137.04" cy="632" r="3" fill="#4a6590"/>
<circle cx="155.76" cy="638.75" r="3" fill="#4a6590"/>
<circle cx="174.48" cy="639.25" r="3" fill="#4a6590"/>
<circle cx="193.2" cy="638" r="3" fill="#4a6590"/>
<circle cx="211.92" cy="640" r="3" fill="#4a6590"/>
<circle cx="230.64" cy="640.5" r="3" fill="#4a6590"/>
<line x1="62.5" y1="587" x2="62.5" y2="623.75" stroke="#e2a954" stroke-width="1.3"/>
<line x1="59.6" y1="587" x2="64.8" y2="587" stroke="#d99a45" stroke-width="1.2"/>
<line x1="59.6" y1="623.75" x2="64.8" y2="623.75" stroke="#d99a45" stroke-width="1.2"/>
<line x1="99.5" y1="592.5" x2="99.5" y2="633.75" stroke="#e2a954" stroke-width="1.3"/>
<line x1="97" y1="592.5" x2="102.2" y2="592.5" stroke="#d99a45" stroke-width="1.2"/>
<line x1="97" y1="633.75" x2="102.2" y2="633.75" stroke="#d99a45" stroke-width="1.2"/>
<line x1="118.5" y1="540.5" x2="118.5" y2="579" stroke="#e2a954" stroke-width="1.3"/>
<line x1="115.72" y1="540.5" x2="120.92" y2="540.5" stroke="#d99a45" stroke-width="1.2"/>
<line x1="115.72" y1="579" x2="120.92" y2="579" stroke="#d99a45" stroke-width="1.2"/>
<line x1="137.5" y1="607.5" x2="137.5" y2="627" stroke="#e2a954" stroke-width="1.3"/>
<line x1="134.44" y1="607.5" x2="139.64" y2="607.5" stroke="#d99a45" stroke-width="1.2"/>
<line x1="134.44" y1="627" x2="139.64" y2="627" stroke="#d99a45" stroke-width="1.2"/>
<line x1="155.5" y1="620.5" x2="155.5" y2="634" stroke="#e2a954" stroke-width="1.3"/>
<line x1="153.16" y1="620.5" x2="158.36" y2="620.5" stroke="#d99a45" stroke-width="1.2"/>
<line x1="153.16" y1="634" x2="158.36" y2="634" stroke="#d99a45" stroke-width="1.2"/>
<line x1="174.5" y1="625" x2="174.5" y2="633.25" stroke="#e2a954" stroke-width="1.3"/>
<line x1="171.88" y1="625" x2="177.08" y2="625" stroke="#d99a45" stroke-width="1.2"/>
<line x1="171.88" y1="633.25" x2="177.08" y2="633.25" stroke="#d99a45" stroke-width="1.2"/>
<line x1="193.5" y1="622.5" x2="193.5" y2="632" stroke="#e2a954" stroke-width="1.3"/>
<line x1="190.6" y1="622.5" x2="195.8" y2="622.5" stroke="#d99a45" stroke-width="1.2"/>
<line x1="190.6" y1="632" x2="195.8" y2="632" stroke="#d99a45" stroke-width="1.2"/>
<line x1="211.5" y1="618.75" x2="211.5" y2="632" stroke="#e2a954" stroke-width="1.3"/>
<line x1="209.32" y1="618.75" x2="214.52" y2="618.75" stroke="#d99a45" stroke-width="1.2"/>
<line x1="209.32" y1="632" x2="214.52" y2="632" stroke="#d99a45" stroke-width="1.2"/>
<line x1="230.5" y1="601.75" x2="230.5" y2="641" stroke="#e2a954" stroke-width="1.3"/>
<line x1="228.04" y1="601.75" x2="233.24" y2="601.75" stroke="#d99a45" stroke-width="1.2"/>
<line x1="228.04" y1="641" x2="233.24" y2="641" stroke="#d99a45" stroke-width="1.2"/>
<polyline points="99.6,611.25 118.32,560 137.04,617 155.76,627.5 174.48,628 193.2,627 211.92,625.5 230.64,624.25" fill="none" stroke="#d99a45" stroke-width="1.6" stroke-linejoin="round"/>
<circle cx="62.2" cy="603.75" r="3" fill="#d99a45"/>
<circle cx="99.6" cy="611.25" r="3" fill="#d99a45"/>
<circle cx="118.32" cy="560" r="3" fill="#d99a45"/>
<circle cx="137.04" cy="617" r="3" fill="#d99a45"/>
<circle cx="155.76" cy="627.5" r="3" fill="#d99a45"/>
<circle cx="174.48" cy="628" r="3" fill="#d99a45"/>
<circle cx="193.2" cy="627" r="3" fill="#d99a45"/>
<circle cx="211.92" cy="625.5" r="3" fill="#d99a45"/>
<circle cx="230.64" cy="624.25" r="3" fill="#d99a45"/>
<line x1="115.72" y1="553.75" x2="120.92" y2="553.75" stroke="#4a6590" stroke-width="1.2"/>
<text x="62.2" y="652.5" font-size="8.4" text-anchor="middle" textLength="13.08" lengthAdjust="spacingAndGlyphs" fill="#2b2b2b" stroke="#2b2b2b" stroke-width="0.2">HD</text>
<text x="99.6" y="652.5" font-size="8.4" text-anchor="middle" textLength="12.98" lengthAdjust="spacingAndGlyphs" fill="#2b2b2b" stroke="#2b2b2b" stroke-width="0.2">W0</text>
<text x="118.32" y="652.5" font-size="8.4" text-anchor="middle" textLength="12.58" lengthAdjust="spacingAndGlyphs" fill="#2b2b2b" stroke="#2b2b2b" stroke-width="0.2">W1</text>
<text x="137.04" y="652.5" font-size="8.4" text-anchor="middle" textLength="12.98" lengthAdjust="spacingAndGlyphs" fill="#2b2b2b" stroke="#2b2b2b" stroke-width="0.2">W2</text>
<text x="155.76" y="652.5" font-size="8.4" text-anchor="middle" textLength="12.98" lengthAdjust="spacingAndGlyphs" fill="#2b2b2b" stroke="#2b2b2b" stroke-width="0.2">W4</text>
<text x="174.48" y="652.5" font-size="8.4" text-anchor="middle" textLength="12.98" lengthAdjust="spacingAndGlyphs" fill="#2b2b2b" stroke="#2b2b2b" stroke-width="0.2">W6</text>
<text x="193.2" y="652.5" font-size="8.4" text-anchor="middle" textLength="12.98" lengthAdjust="spacingAndGlyphs" fill="#2b2b2b" stroke="#2b2b2b" stroke-width="0.2">W8</text>
<text x="211.92" y="652.5" font-size="8.4" text-anchor="middle" textLength="16.78" lengthAdjust="spacingAndGlyphs" fill="#2b2b2b" stroke="#2b2b2b" stroke-width="0.2">W12</text>
<text x="230.64" y="652.5" font-size="8.4" text-anchor="middle" textLength="12.98" lengthAdjust="spacingAndGlyphs" fill="#2b2b2b" stroke="#2b2b2b" stroke-width="0.2">6M</text>
<line x1="138.8" y1="537.5" x2="158.8" y2="537.5" stroke="#4a6590" stroke-width="1.4"/>
<circle cx="148.8" cy="537.5" r="3" fill="#4a6590"/>
<text x="161.22" y="540.5" font-size="8.3" textLength="51.86" lengthAdjust="spacingAndGlyphs" fill="#2b2b2b" stroke="#2b2b2b" stroke-width="0.2">Naïve CD4Treg</text>
<line x1="138.8" y1="555" x2="158.8" y2="555" stroke="#d99a45" stroke-width="1.4"/>
<circle cx="148.8" cy="555" r="3" fill="#d99a45"/>
<text x="161.22" y="558" font-size="8.3" textLength="61.36" lengthAdjust="spacingAndGlyphs" fill="#2b2b2b" stroke="#2b2b2b" stroke-width="0.2">Memory CD4Treg</text>
<text x="102.4" y="665.5" font-size="8.6" textLength="87.45" lengthAdjust="spacingAndGlyphs" fill="#2b2b2b" stroke="#2b2b2b" stroke-width="0.2">Time after IL-2 initiation</text>
<text x="38.14" y="678.6" font-size="8.7" textLength="6.47" lengthAdjust="spacingAndGlyphs" fill="#2b2b2b" stroke="#2b2b2b" stroke-width="0.2">N</text>
<text x="44.19" y="678.6" font-size="8.7" textLength="2.52" lengthAdjust="spacingAndGlyphs" fill="#2b2b2b" stroke="#2b2b2b" stroke-width="0.2">:</text>
<text x="62.2" y="678.4" font-size="8.7" text-anchor="middle" textLength="10.12" lengthAdjust="spacingAndGlyphs" fill="#2b2b2b" stroke="#2b2b2b" stroke-width="0.2">15</text>
<text x="99.6" y="678.4" font-size="8.7" text-anchor="middle" textLength="10.12" lengthAdjust="spacingAndGlyphs" fill="#2b2b2b" stroke="#2b2b2b" stroke-width="0.2">18</text>
<text x="118.32" y="678.4" font-size="8.7" text-anchor="middle" textLength="10.12" lengthAdjust="spacingAndGlyphs" fill="#2b2b2b" stroke="#2b2b2b" stroke-width="0.2">21</text>
<text x="137.04" y="678.4" font-size="8.7" text-anchor="middle" textLength="10.12" lengthAdjust="spacingAndGlyphs" fill="#2b2b2b" stroke="#2b2b2b" stroke-width="0.2">24</text>
<text x="155.76" y="678.4" font-size="8.7" text-anchor="middle" textLength="10.12" lengthAdjust="spacingAndGlyphs" fill="#2b2b2b" stroke="#2b2b2b" stroke-width="0.2">26</text>
<text x="174.48" y="678.4" font-size="8.7" text-anchor="middle" textLength="10.12" lengthAdjust="spacingAndGlyphs" fill="#2b2b2b" stroke="#2b2b2b" stroke-width="0.2">27</text>
<text x="193.2" y="678.4" font-size="8.7" text-anchor="middle" textLength="10.12" lengthAdjust="spacingAndGlyphs" fill="#2b2b2b" stroke="#2b2b2b" stroke-width="0.2">25</text>
<text x="211.92" y="678.4" font-size="8.7" text-anchor="middle" textLength="10.12" lengthAdjust="spacingAndGlyphs" fill="#2b2b2b" stroke="#2b2b2b" stroke-width="0.2">28</text>
<text x="230.64" y="678.4" font-size="8.7" text-anchor="middle" textLength="10.12" lengthAdjust="spacingAndGlyphs" fill="#2b2b2b" stroke="#2b2b2b" stroke-width="0.2">15</text>
<rect x="0" y="0" width="520" height="1.5" fill="#6f6f6b"/>
<rect x="0" y="685.8" width="520" height="2.2" fill="#6f6f6b"/>
<rect x="0" y="1.5" width="1.35" height="684.3" fill="#21211b"/>
<rect x="519" y="1.5" width="1" height="684.3" fill="#1e1e1a"/>
</svg>
</body></html>
